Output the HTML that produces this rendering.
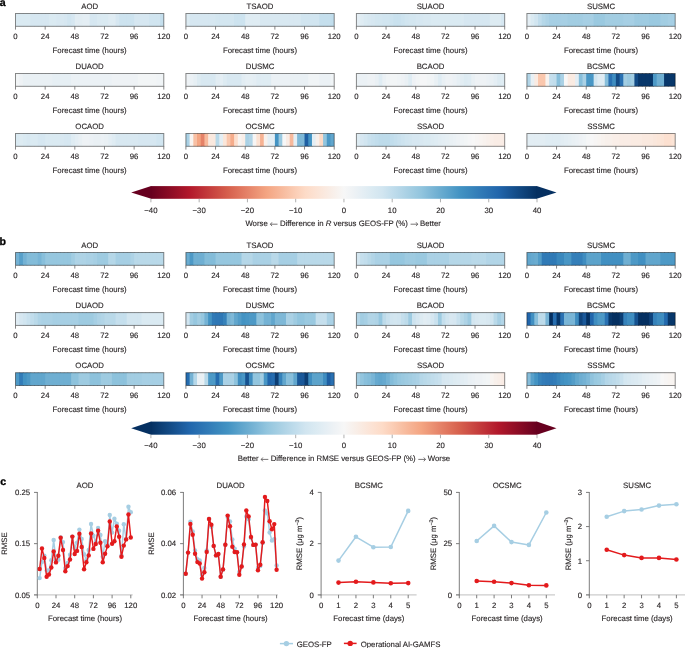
<!DOCTYPE html>
<html><head><meta charset="utf-8"><title>Figure</title>
<style>
html,body{margin:0;padding:0;background:#fff;}
body{width:685px;height:648px;overflow:hidden;}
svg{display:block;font-family:"Liberation Sans", sans-serif;will-change:transform;text-rendering:geometricPrecision;}
text{fill:#231f20;stroke:#231f20;stroke-width:0.12px;}
</style></head>
<body>
<svg width="685" height="648" viewBox="0 0 685 648" font-family='"Liberation Sans", sans-serif'>
<rect width="685" height="648" fill="#fff"/>
<text x="-0.30" y="5.80" text-anchor="start" font-size="10.6" font-weight="bold" style="fill:#000;stroke:#000;stroke-width:0.3px">a</text>
<text x="-0.50" y="245.00" text-anchor="start" font-size="10.6" font-weight="bold" style="fill:#000;stroke:#000;stroke-width:0.3px">b</text>
<text x="0.20" y="485.00" text-anchor="start" font-size="10.6" font-weight="bold" style="fill:#000;stroke:#000;stroke-width:0.3px">c</text>
<rect x="15.500" y="13.50" width="4.608" height="12.80" fill="#daeaf2"/>
<rect x="19.207" y="13.50" width="4.608" height="12.80" fill="#daeaf2"/>
<rect x="22.915" y="13.50" width="4.608" height="12.80" fill="#daeaf2"/>
<rect x="26.623" y="13.50" width="4.608" height="12.80" fill="#daeaf2"/>
<rect x="30.330" y="13.50" width="4.608" height="12.80" fill="#d6e7f1"/>
<rect x="34.038" y="13.50" width="4.608" height="12.80" fill="#d6e7f1"/>
<rect x="37.745" y="13.50" width="4.608" height="12.80" fill="#d6e7f1"/>
<rect x="41.453" y="13.50" width="4.608" height="12.80" fill="#d6e7f1"/>
<rect x="45.160" y="13.50" width="4.608" height="12.80" fill="#d6e7f1"/>
<rect x="48.868" y="13.50" width="4.608" height="12.80" fill="#daeaf2"/>
<rect x="52.575" y="13.50" width="4.608" height="12.80" fill="#daeaf2"/>
<rect x="56.283" y="13.50" width="4.608" height="12.80" fill="#d8e8f1"/>
<rect x="59.990" y="13.50" width="4.608" height="12.80" fill="#d8e8f1"/>
<rect x="63.698" y="13.50" width="4.608" height="12.80" fill="#d6e7f1"/>
<rect x="67.405" y="13.50" width="4.608" height="12.80" fill="#d1e5f0"/>
<rect x="71.113" y="13.50" width="4.608" height="12.80" fill="#d6e7f1"/>
<rect x="74.820" y="13.50" width="4.608" height="12.80" fill="#e2edf3"/>
<rect x="78.528" y="13.50" width="4.608" height="12.80" fill="#e2edf3"/>
<rect x="82.235" y="13.50" width="4.608" height="12.80" fill="#e4eef4"/>
<rect x="85.943" y="13.50" width="4.608" height="12.80" fill="#e4eef4"/>
<rect x="89.650" y="13.50" width="4.608" height="12.80" fill="#d6e7f1"/>
<rect x="93.358" y="13.50" width="4.608" height="12.80" fill="#d6e7f1"/>
<rect x="97.065" y="13.50" width="4.608" height="12.80" fill="#daeaf2"/>
<rect x="100.773" y="13.50" width="4.608" height="12.80" fill="#daeaf2"/>
<rect x="104.480" y="13.50" width="4.608" height="12.80" fill="#daeaf2"/>
<rect x="108.188" y="13.50" width="4.608" height="12.80" fill="#dfecf3"/>
<rect x="111.895" y="13.50" width="4.608" height="12.80" fill="#dfecf3"/>
<rect x="115.603" y="13.50" width="4.608" height="12.80" fill="#d6e7f1"/>
<rect x="119.310" y="13.50" width="4.608" height="12.80" fill="#cde3ef"/>
<rect x="123.018" y="13.50" width="4.608" height="12.80" fill="#cde3ef"/>
<rect x="126.725" y="13.50" width="4.608" height="12.80" fill="#cde3ef"/>
<rect x="130.433" y="13.50" width="4.608" height="12.80" fill="#cde3ef"/>
<rect x="134.140" y="13.50" width="4.608" height="12.80" fill="#d6e7f1"/>
<rect x="137.848" y="13.50" width="4.608" height="12.80" fill="#d6e7f1"/>
<rect x="141.555" y="13.50" width="4.608" height="12.80" fill="#d6e7f1"/>
<rect x="145.263" y="13.50" width="4.608" height="12.80" fill="#d6e7f1"/>
<rect x="148.970" y="13.50" width="4.608" height="12.80" fill="#d1e5f0"/>
<rect x="152.678" y="13.50" width="4.608" height="12.80" fill="#d1e5f0"/>
<rect x="156.385" y="13.50" width="4.608" height="12.80" fill="#d1e5f0"/>
<rect x="160.093" y="13.50" width="3.708" height="12.80" fill="#c5dfed"/>
<rect x="15.50" y="13.50" width="148.30" height="12.80" fill="none" stroke="#000" stroke-opacity="0.48" stroke-width="0.95"/>
<line x1="15.50" y1="26.30" x2="15.50" y2="29.60" stroke="#5e5e5e" stroke-width="0.75"/>
<text x="15.50" y="39.20" text-anchor="middle" font-size="7.8" font-weight="normal" >0</text>
<line x1="45.16" y1="26.30" x2="45.16" y2="29.60" stroke="#5e5e5e" stroke-width="0.75"/>
<text x="45.16" y="39.20" text-anchor="middle" font-size="7.8" font-weight="normal" >24</text>
<line x1="74.82" y1="26.30" x2="74.82" y2="29.60" stroke="#5e5e5e" stroke-width="0.75"/>
<text x="74.82" y="39.20" text-anchor="middle" font-size="7.8" font-weight="normal" >48</text>
<line x1="104.48" y1="26.30" x2="104.48" y2="29.60" stroke="#5e5e5e" stroke-width="0.75"/>
<text x="104.48" y="39.20" text-anchor="middle" font-size="7.8" font-weight="normal" >72</text>
<line x1="134.14" y1="26.30" x2="134.14" y2="29.60" stroke="#5e5e5e" stroke-width="0.75"/>
<text x="134.14" y="39.20" text-anchor="middle" font-size="7.8" font-weight="normal" >96</text>
<line x1="163.80" y1="26.30" x2="163.80" y2="29.60" stroke="#5e5e5e" stroke-width="0.75"/>
<text x="163.80" y="39.20" text-anchor="middle" font-size="7.8" font-weight="normal" >120</text>
<text x="89.65" y="9.10" text-anchor="middle" font-size="7.8" font-weight="normal" >AOD</text>
<text x="89.65" y="52.80" text-anchor="middle" font-size="7.8" font-weight="normal" >Forecast time (hours)</text>
<rect x="15.500" y="252.50" width="4.608" height="12.80" fill="#74b2d4"/>
<rect x="19.207" y="252.50" width="4.608" height="12.80" fill="#57a0ca"/>
<rect x="22.915" y="252.50" width="4.608" height="12.80" fill="#74b2d4"/>
<rect x="26.623" y="252.50" width="4.608" height="12.80" fill="#83bcd9"/>
<rect x="30.330" y="252.50" width="4.608" height="12.80" fill="#83bcd9"/>
<rect x="34.038" y="252.50" width="4.608" height="12.80" fill="#83bcd9"/>
<rect x="37.745" y="252.50" width="4.608" height="12.80" fill="#79b5d6"/>
<rect x="41.453" y="252.50" width="4.608" height="12.80" fill="#88bfdb"/>
<rect x="45.160" y="252.50" width="4.608" height="12.80" fill="#96c7df"/>
<rect x="48.868" y="252.50" width="4.608" height="12.80" fill="#96c7df"/>
<rect x="52.575" y="252.50" width="4.608" height="12.80" fill="#96c7df"/>
<rect x="56.283" y="252.50" width="4.608" height="12.80" fill="#96c7df"/>
<rect x="59.990" y="252.50" width="4.608" height="12.80" fill="#96c7df"/>
<rect x="63.698" y="252.50" width="4.608" height="12.80" fill="#96c7df"/>
<rect x="67.405" y="252.50" width="4.608" height="12.80" fill="#96c7df"/>
<rect x="71.113" y="252.50" width="4.608" height="12.80" fill="#a2cde2"/>
<rect x="74.820" y="252.50" width="4.608" height="12.80" fill="#aed3e6"/>
<rect x="78.528" y="252.50" width="4.608" height="12.80" fill="#aed3e6"/>
<rect x="82.235" y="252.50" width="4.608" height="12.80" fill="#aed3e6"/>
<rect x="85.943" y="252.50" width="4.608" height="12.80" fill="#aad1e5"/>
<rect x="89.650" y="252.50" width="4.608" height="12.80" fill="#aad1e5"/>
<rect x="93.358" y="252.50" width="4.608" height="12.80" fill="#a6cfe4"/>
<rect x="97.065" y="252.50" width="4.608" height="12.80" fill="#9ecbe1"/>
<rect x="100.773" y="252.50" width="4.608" height="12.80" fill="#9ecbe1"/>
<rect x="104.480" y="252.50" width="4.608" height="12.80" fill="#9ecbe1"/>
<rect x="108.188" y="252.50" width="4.608" height="12.80" fill="#b5d7e8"/>
<rect x="111.895" y="252.50" width="4.608" height="12.80" fill="#b5d7e8"/>
<rect x="115.603" y="252.50" width="4.608" height="12.80" fill="#a6cfe4"/>
<rect x="119.310" y="252.50" width="4.608" height="12.80" fill="#a6cfe4"/>
<rect x="123.018" y="252.50" width="4.608" height="12.80" fill="#a6cfe4"/>
<rect x="126.725" y="252.50" width="4.608" height="12.80" fill="#a6cfe4"/>
<rect x="130.433" y="252.50" width="4.608" height="12.80" fill="#aed3e6"/>
<rect x="134.140" y="252.50" width="4.608" height="12.80" fill="#b9d9e9"/>
<rect x="137.848" y="252.50" width="4.608" height="12.80" fill="#b9d9e9"/>
<rect x="141.555" y="252.50" width="4.608" height="12.80" fill="#b9d9e9"/>
<rect x="145.263" y="252.50" width="4.608" height="12.80" fill="#b9d9e9"/>
<rect x="148.970" y="252.50" width="4.608" height="12.80" fill="#b9d9e9"/>
<rect x="152.678" y="252.50" width="4.608" height="12.80" fill="#b9d9e9"/>
<rect x="156.385" y="252.50" width="4.608" height="12.80" fill="#b9d9e9"/>
<rect x="160.093" y="252.50" width="3.708" height="12.80" fill="#b9d9e9"/>
<rect x="15.50" y="252.50" width="148.30" height="12.80" fill="none" stroke="#000" stroke-opacity="0.48" stroke-width="0.95"/>
<line x1="15.50" y1="265.30" x2="15.50" y2="268.60" stroke="#5e5e5e" stroke-width="0.75"/>
<text x="15.50" y="278.20" text-anchor="middle" font-size="7.8" font-weight="normal" >0</text>
<line x1="45.16" y1="265.30" x2="45.16" y2="268.60" stroke="#5e5e5e" stroke-width="0.75"/>
<text x="45.16" y="278.20" text-anchor="middle" font-size="7.8" font-weight="normal" >24</text>
<line x1="74.82" y1="265.30" x2="74.82" y2="268.60" stroke="#5e5e5e" stroke-width="0.75"/>
<text x="74.82" y="278.20" text-anchor="middle" font-size="7.8" font-weight="normal" >48</text>
<line x1="104.48" y1="265.30" x2="104.48" y2="268.60" stroke="#5e5e5e" stroke-width="0.75"/>
<text x="104.48" y="278.20" text-anchor="middle" font-size="7.8" font-weight="normal" >72</text>
<line x1="134.14" y1="265.30" x2="134.14" y2="268.60" stroke="#5e5e5e" stroke-width="0.75"/>
<text x="134.14" y="278.20" text-anchor="middle" font-size="7.8" font-weight="normal" >96</text>
<line x1="163.80" y1="265.30" x2="163.80" y2="268.60" stroke="#5e5e5e" stroke-width="0.75"/>
<text x="163.80" y="278.20" text-anchor="middle" font-size="7.8" font-weight="normal" >120</text>
<text x="89.65" y="248.10" text-anchor="middle" font-size="7.8" font-weight="normal" >AOD</text>
<text x="89.65" y="291.80" text-anchor="middle" font-size="7.8" font-weight="normal" >Forecast time (hours)</text>
<rect x="185.900" y="13.50" width="4.608" height="12.80" fill="#ddebf2"/>
<rect x="189.608" y="13.50" width="4.608" height="12.80" fill="#d6e7f1"/>
<rect x="193.315" y="13.50" width="4.608" height="12.80" fill="#d6e7f1"/>
<rect x="197.023" y="13.50" width="4.608" height="12.80" fill="#d6e7f1"/>
<rect x="200.730" y="13.50" width="4.608" height="12.80" fill="#d6e7f1"/>
<rect x="204.438" y="13.50" width="4.608" height="12.80" fill="#d6e7f1"/>
<rect x="208.145" y="13.50" width="4.608" height="12.80" fill="#d6e7f1"/>
<rect x="211.853" y="13.50" width="4.608" height="12.80" fill="#d6e7f1"/>
<rect x="215.560" y="13.50" width="4.608" height="12.80" fill="#d3e6f0"/>
<rect x="219.268" y="13.50" width="4.608" height="12.80" fill="#d3e6f0"/>
<rect x="222.975" y="13.50" width="4.608" height="12.80" fill="#d3e6f0"/>
<rect x="226.683" y="13.50" width="4.608" height="12.80" fill="#d3e6f0"/>
<rect x="230.390" y="13.50" width="4.608" height="12.80" fill="#d3e6f0"/>
<rect x="234.098" y="13.50" width="4.608" height="12.80" fill="#cde3ef"/>
<rect x="237.805" y="13.50" width="4.608" height="12.80" fill="#cde3ef"/>
<rect x="241.513" y="13.50" width="4.608" height="12.80" fill="#cde3ef"/>
<rect x="245.220" y="13.50" width="4.608" height="12.80" fill="#dfecf3"/>
<rect x="248.928" y="13.50" width="4.608" height="12.80" fill="#dfecf3"/>
<rect x="252.635" y="13.50" width="4.608" height="12.80" fill="#dfecf3"/>
<rect x="256.343" y="13.50" width="4.608" height="12.80" fill="#dfecf3"/>
<rect x="260.050" y="13.50" width="4.608" height="12.80" fill="#d8e8f1"/>
<rect x="263.758" y="13.50" width="4.608" height="12.80" fill="#d8e8f1"/>
<rect x="267.465" y="13.50" width="4.608" height="12.80" fill="#d8e8f1"/>
<rect x="271.173" y="13.50" width="4.608" height="12.80" fill="#d8e8f1"/>
<rect x="274.880" y="13.50" width="4.608" height="12.80" fill="#d8e8f1"/>
<rect x="278.588" y="13.50" width="4.608" height="12.80" fill="#d8e8f1"/>
<rect x="282.295" y="13.50" width="4.608" height="12.80" fill="#d8e8f1"/>
<rect x="286.002" y="13.50" width="4.608" height="12.80" fill="#d8e8f1"/>
<rect x="289.710" y="13.50" width="4.608" height="12.80" fill="#d8e8f1"/>
<rect x="293.418" y="13.50" width="4.608" height="12.80" fill="#d8e8f1"/>
<rect x="297.125" y="13.50" width="4.608" height="12.80" fill="#d8e8f1"/>
<rect x="300.833" y="13.50" width="4.608" height="12.80" fill="#d1e5f0"/>
<rect x="304.540" y="13.50" width="4.608" height="12.80" fill="#d1e5f0"/>
<rect x="308.248" y="13.50" width="4.608" height="12.80" fill="#d1e5f0"/>
<rect x="311.955" y="13.50" width="4.608" height="12.80" fill="#d1e5f0"/>
<rect x="315.663" y="13.50" width="4.608" height="12.80" fill="#d1e5f0"/>
<rect x="319.370" y="13.50" width="4.608" height="12.80" fill="#c5dfed"/>
<rect x="323.077" y="13.50" width="4.608" height="12.80" fill="#c5dfed"/>
<rect x="326.785" y="13.50" width="4.608" height="12.80" fill="#c5dfed"/>
<rect x="330.493" y="13.50" width="3.708" height="12.80" fill="#c1ddec"/>
<rect x="185.90" y="13.50" width="148.30" height="12.80" fill="none" stroke="#000" stroke-opacity="0.48" stroke-width="0.95"/>
<line x1="185.90" y1="26.30" x2="185.90" y2="29.60" stroke="#5e5e5e" stroke-width="0.75"/>
<text x="185.90" y="39.20" text-anchor="middle" font-size="7.8" font-weight="normal" >0</text>
<line x1="215.56" y1="26.30" x2="215.56" y2="29.60" stroke="#5e5e5e" stroke-width="0.75"/>
<text x="215.56" y="39.20" text-anchor="middle" font-size="7.8" font-weight="normal" >24</text>
<line x1="245.22" y1="26.30" x2="245.22" y2="29.60" stroke="#5e5e5e" stroke-width="0.75"/>
<text x="245.22" y="39.20" text-anchor="middle" font-size="7.8" font-weight="normal" >48</text>
<line x1="274.88" y1="26.30" x2="274.88" y2="29.60" stroke="#5e5e5e" stroke-width="0.75"/>
<text x="274.88" y="39.20" text-anchor="middle" font-size="7.8" font-weight="normal" >72</text>
<line x1="304.54" y1="26.30" x2="304.54" y2="29.60" stroke="#5e5e5e" stroke-width="0.75"/>
<text x="304.54" y="39.20" text-anchor="middle" font-size="7.8" font-weight="normal" >96</text>
<line x1="334.20" y1="26.30" x2="334.20" y2="29.60" stroke="#5e5e5e" stroke-width="0.75"/>
<text x="334.20" y="39.20" text-anchor="middle" font-size="7.8" font-weight="normal" >120</text>
<text x="260.05" y="9.10" text-anchor="middle" font-size="7.8" font-weight="normal" >TSAOD</text>
<text x="260.05" y="52.80" text-anchor="middle" font-size="7.8" font-weight="normal" >Forecast time (hours)</text>
<rect x="185.900" y="252.50" width="4.608" height="12.80" fill="#6aacd0"/>
<rect x="189.608" y="252.50" width="4.608" height="12.80" fill="#4d99c6"/>
<rect x="193.315" y="252.50" width="4.608" height="12.80" fill="#6fafd2"/>
<rect x="197.023" y="252.50" width="4.608" height="12.80" fill="#6fafd2"/>
<rect x="200.730" y="252.50" width="4.608" height="12.80" fill="#6fafd2"/>
<rect x="204.438" y="252.50" width="4.608" height="12.80" fill="#83bcd9"/>
<rect x="208.145" y="252.50" width="4.608" height="12.80" fill="#83bcd9"/>
<rect x="211.853" y="252.50" width="4.608" height="12.80" fill="#83bcd9"/>
<rect x="215.560" y="252.50" width="4.608" height="12.80" fill="#96c7df"/>
<rect x="219.268" y="252.50" width="4.608" height="12.80" fill="#96c7df"/>
<rect x="222.975" y="252.50" width="4.608" height="12.80" fill="#96c7df"/>
<rect x="226.683" y="252.50" width="4.608" height="12.80" fill="#96c7df"/>
<rect x="230.390" y="252.50" width="4.608" height="12.80" fill="#96c7df"/>
<rect x="234.098" y="252.50" width="4.608" height="12.80" fill="#96c7df"/>
<rect x="237.805" y="252.50" width="4.608" height="12.80" fill="#96c7df"/>
<rect x="241.513" y="252.50" width="4.608" height="12.80" fill="#b5d7e8"/>
<rect x="245.220" y="252.50" width="4.608" height="12.80" fill="#b5d7e8"/>
<rect x="248.928" y="252.50" width="4.608" height="12.80" fill="#b5d7e8"/>
<rect x="252.635" y="252.50" width="4.608" height="12.80" fill="#aad1e5"/>
<rect x="256.343" y="252.50" width="4.608" height="12.80" fill="#aad1e5"/>
<rect x="260.050" y="252.50" width="4.608" height="12.80" fill="#aad1e5"/>
<rect x="263.758" y="252.50" width="4.608" height="12.80" fill="#aad1e5"/>
<rect x="267.465" y="252.50" width="4.608" height="12.80" fill="#aad1e5"/>
<rect x="271.173" y="252.50" width="4.608" height="12.80" fill="#b9d9e9"/>
<rect x="274.880" y="252.50" width="4.608" height="12.80" fill="#b9d9e9"/>
<rect x="278.588" y="252.50" width="4.608" height="12.80" fill="#a6cfe4"/>
<rect x="282.295" y="252.50" width="4.608" height="12.80" fill="#a6cfe4"/>
<rect x="286.002" y="252.50" width="4.608" height="12.80" fill="#a6cfe4"/>
<rect x="289.710" y="252.50" width="4.608" height="12.80" fill="#a6cfe4"/>
<rect x="293.418" y="252.50" width="4.608" height="12.80" fill="#a6cfe4"/>
<rect x="297.125" y="252.50" width="4.608" height="12.80" fill="#b9d9e9"/>
<rect x="300.833" y="252.50" width="4.608" height="12.80" fill="#b9d9e9"/>
<rect x="304.540" y="252.50" width="4.608" height="12.80" fill="#b9d9e9"/>
<rect x="308.248" y="252.50" width="4.608" height="12.80" fill="#b9d9e9"/>
<rect x="311.955" y="252.50" width="4.608" height="12.80" fill="#b9d9e9"/>
<rect x="315.663" y="252.50" width="4.608" height="12.80" fill="#b9d9e9"/>
<rect x="319.370" y="252.50" width="4.608" height="12.80" fill="#b9d9e9"/>
<rect x="323.077" y="252.50" width="4.608" height="12.80" fill="#b9d9e9"/>
<rect x="326.785" y="252.50" width="4.608" height="12.80" fill="#b9d9e9"/>
<rect x="330.493" y="252.50" width="3.708" height="12.80" fill="#b9d9e9"/>
<rect x="185.90" y="252.50" width="148.30" height="12.80" fill="none" stroke="#000" stroke-opacity="0.48" stroke-width="0.95"/>
<line x1="185.90" y1="265.30" x2="185.90" y2="268.60" stroke="#5e5e5e" stroke-width="0.75"/>
<text x="185.90" y="278.20" text-anchor="middle" font-size="7.8" font-weight="normal" >0</text>
<line x1="215.56" y1="265.30" x2="215.56" y2="268.60" stroke="#5e5e5e" stroke-width="0.75"/>
<text x="215.56" y="278.20" text-anchor="middle" font-size="7.8" font-weight="normal" >24</text>
<line x1="245.22" y1="265.30" x2="245.22" y2="268.60" stroke="#5e5e5e" stroke-width="0.75"/>
<text x="245.22" y="278.20" text-anchor="middle" font-size="7.8" font-weight="normal" >48</text>
<line x1="274.88" y1="265.30" x2="274.88" y2="268.60" stroke="#5e5e5e" stroke-width="0.75"/>
<text x="274.88" y="278.20" text-anchor="middle" font-size="7.8" font-weight="normal" >72</text>
<line x1="304.54" y1="265.30" x2="304.54" y2="268.60" stroke="#5e5e5e" stroke-width="0.75"/>
<text x="304.54" y="278.20" text-anchor="middle" font-size="7.8" font-weight="normal" >96</text>
<line x1="334.20" y1="265.30" x2="334.20" y2="268.60" stroke="#5e5e5e" stroke-width="0.75"/>
<text x="334.20" y="278.20" text-anchor="middle" font-size="7.8" font-weight="normal" >120</text>
<text x="260.05" y="248.10" text-anchor="middle" font-size="7.8" font-weight="normal" >TSAOD</text>
<text x="260.05" y="291.80" text-anchor="middle" font-size="7.8" font-weight="normal" >Forecast time (hours)</text>
<rect x="356.400" y="13.50" width="4.608" height="12.80" fill="#e4eef4"/>
<rect x="360.107" y="13.50" width="4.608" height="12.80" fill="#dfecf3"/>
<rect x="363.815" y="13.50" width="4.608" height="12.80" fill="#daeaf2"/>
<rect x="367.522" y="13.50" width="4.608" height="12.80" fill="#d8e8f1"/>
<rect x="371.230" y="13.50" width="4.608" height="12.80" fill="#d6e7f1"/>
<rect x="374.938" y="13.50" width="4.608" height="12.80" fill="#d3e6f0"/>
<rect x="378.645" y="13.50" width="4.608" height="12.80" fill="#d3e6f0"/>
<rect x="382.352" y="13.50" width="4.608" height="12.80" fill="#d1e5f0"/>
<rect x="386.060" y="13.50" width="4.608" height="12.80" fill="#d1e5f0"/>
<rect x="389.767" y="13.50" width="4.608" height="12.80" fill="#cde3ef"/>
<rect x="393.475" y="13.50" width="4.608" height="12.80" fill="#c9e1ee"/>
<rect x="397.183" y="13.50" width="4.608" height="12.80" fill="#c9e1ee"/>
<rect x="400.890" y="13.50" width="4.608" height="12.80" fill="#cde3ef"/>
<rect x="404.597" y="13.50" width="4.608" height="12.80" fill="#d1e5f0"/>
<rect x="408.305" y="13.50" width="4.608" height="12.80" fill="#d3e6f0"/>
<rect x="412.012" y="13.50" width="4.608" height="12.80" fill="#d3e6f0"/>
<rect x="415.720" y="13.50" width="4.608" height="12.80" fill="#d6e7f1"/>
<rect x="419.428" y="13.50" width="4.608" height="12.80" fill="#d6e7f1"/>
<rect x="423.135" y="13.50" width="4.608" height="12.80" fill="#d8e8f1"/>
<rect x="426.842" y="13.50" width="4.608" height="12.80" fill="#d8e8f1"/>
<rect x="430.550" y="13.50" width="4.608" height="12.80" fill="#daeaf2"/>
<rect x="434.257" y="13.50" width="4.608" height="12.80" fill="#daeaf2"/>
<rect x="437.965" y="13.50" width="4.608" height="12.80" fill="#daeaf2"/>
<rect x="441.673" y="13.50" width="4.608" height="12.80" fill="#daeaf2"/>
<rect x="445.380" y="13.50" width="4.608" height="12.80" fill="#daeaf2"/>
<rect x="449.087" y="13.50" width="4.608" height="12.80" fill="#daeaf2"/>
<rect x="452.795" y="13.50" width="4.608" height="12.80" fill="#daeaf2"/>
<rect x="456.502" y="13.50" width="4.608" height="12.80" fill="#daeaf2"/>
<rect x="460.210" y="13.50" width="4.608" height="12.80" fill="#daeaf2"/>
<rect x="463.918" y="13.50" width="4.608" height="12.80" fill="#d6e7f1"/>
<rect x="467.625" y="13.50" width="4.608" height="12.80" fill="#d6e7f1"/>
<rect x="471.332" y="13.50" width="4.608" height="12.80" fill="#d6e7f1"/>
<rect x="475.040" y="13.50" width="4.608" height="12.80" fill="#d6e7f1"/>
<rect x="478.748" y="13.50" width="4.608" height="12.80" fill="#d6e7f1"/>
<rect x="482.455" y="13.50" width="4.608" height="12.80" fill="#d6e7f1"/>
<rect x="486.163" y="13.50" width="4.608" height="12.80" fill="#d6e7f1"/>
<rect x="489.870" y="13.50" width="4.608" height="12.80" fill="#ddebf2"/>
<rect x="493.577" y="13.50" width="4.608" height="12.80" fill="#ddebf2"/>
<rect x="497.285" y="13.50" width="4.608" height="12.80" fill="#ddebf2"/>
<rect x="500.993" y="13.50" width="3.708" height="12.80" fill="#d6e7f1"/>
<rect x="356.40" y="13.50" width="148.30" height="12.80" fill="none" stroke="#000" stroke-opacity="0.48" stroke-width="0.95"/>
<line x1="356.40" y1="26.30" x2="356.40" y2="29.60" stroke="#5e5e5e" stroke-width="0.75"/>
<text x="356.40" y="39.20" text-anchor="middle" font-size="7.8" font-weight="normal" >0</text>
<line x1="386.06" y1="26.30" x2="386.06" y2="29.60" stroke="#5e5e5e" stroke-width="0.75"/>
<text x="386.06" y="39.20" text-anchor="middle" font-size="7.8" font-weight="normal" >24</text>
<line x1="415.72" y1="26.30" x2="415.72" y2="29.60" stroke="#5e5e5e" stroke-width="0.75"/>
<text x="415.72" y="39.20" text-anchor="middle" font-size="7.8" font-weight="normal" >48</text>
<line x1="445.38" y1="26.30" x2="445.38" y2="29.60" stroke="#5e5e5e" stroke-width="0.75"/>
<text x="445.38" y="39.20" text-anchor="middle" font-size="7.8" font-weight="normal" >72</text>
<line x1="475.04" y1="26.30" x2="475.04" y2="29.60" stroke="#5e5e5e" stroke-width="0.75"/>
<text x="475.04" y="39.20" text-anchor="middle" font-size="7.8" font-weight="normal" >96</text>
<line x1="504.70" y1="26.30" x2="504.70" y2="29.60" stroke="#5e5e5e" stroke-width="0.75"/>
<text x="504.70" y="39.20" text-anchor="middle" font-size="7.8" font-weight="normal" >120</text>
<text x="430.55" y="9.10" text-anchor="middle" font-size="7.8" font-weight="normal" >SUAOD</text>
<text x="430.55" y="52.80" text-anchor="middle" font-size="7.8" font-weight="normal" >Forecast time (hours)</text>
<rect x="356.400" y="252.50" width="4.608" height="12.80" fill="#d3e6f0"/>
<rect x="360.107" y="252.50" width="4.608" height="12.80" fill="#c5dfed"/>
<rect x="363.815" y="252.50" width="4.608" height="12.80" fill="#c1ddec"/>
<rect x="367.522" y="252.50" width="4.608" height="12.80" fill="#b9d9e9"/>
<rect x="371.230" y="252.50" width="4.608" height="12.80" fill="#b2d5e7"/>
<rect x="374.938" y="252.50" width="4.608" height="12.80" fill="#aad1e5"/>
<rect x="378.645" y="252.50" width="4.608" height="12.80" fill="#aad1e5"/>
<rect x="382.352" y="252.50" width="4.608" height="12.80" fill="#aad1e5"/>
<rect x="386.060" y="252.50" width="4.608" height="12.80" fill="#aad1e5"/>
<rect x="389.767" y="252.50" width="4.608" height="12.80" fill="#96c7df"/>
<rect x="393.475" y="252.50" width="4.608" height="12.80" fill="#96c7df"/>
<rect x="397.183" y="252.50" width="4.608" height="12.80" fill="#96c7df"/>
<rect x="400.890" y="252.50" width="4.608" height="12.80" fill="#96c7df"/>
<rect x="404.597" y="252.50" width="4.608" height="12.80" fill="#9ecbe1"/>
<rect x="408.305" y="252.50" width="4.608" height="12.80" fill="#9ecbe1"/>
<rect x="412.012" y="252.50" width="4.608" height="12.80" fill="#9ecbe1"/>
<rect x="415.720" y="252.50" width="4.608" height="12.80" fill="#9ac9e0"/>
<rect x="419.428" y="252.50" width="4.608" height="12.80" fill="#9ac9e0"/>
<rect x="423.135" y="252.50" width="4.608" height="12.80" fill="#9ac9e0"/>
<rect x="426.842" y="252.50" width="4.608" height="12.80" fill="#aad1e5"/>
<rect x="430.550" y="252.50" width="4.608" height="12.80" fill="#aad1e5"/>
<rect x="434.257" y="252.50" width="4.608" height="12.80" fill="#aad1e5"/>
<rect x="437.965" y="252.50" width="4.608" height="12.80" fill="#aad1e5"/>
<rect x="441.673" y="252.50" width="4.608" height="12.80" fill="#aad1e5"/>
<rect x="445.380" y="252.50" width="4.608" height="12.80" fill="#aad1e5"/>
<rect x="449.087" y="252.50" width="4.608" height="12.80" fill="#b5d7e8"/>
<rect x="452.795" y="252.50" width="4.608" height="12.80" fill="#b5d7e8"/>
<rect x="456.502" y="252.50" width="4.608" height="12.80" fill="#b5d7e8"/>
<rect x="460.210" y="252.50" width="4.608" height="12.80" fill="#b5d7e8"/>
<rect x="463.918" y="252.50" width="4.608" height="12.80" fill="#b5d7e8"/>
<rect x="467.625" y="252.50" width="4.608" height="12.80" fill="#b5d7e8"/>
<rect x="471.332" y="252.50" width="4.608" height="12.80" fill="#b9d9e9"/>
<rect x="475.040" y="252.50" width="4.608" height="12.80" fill="#b9d9e9"/>
<rect x="478.748" y="252.50" width="4.608" height="12.80" fill="#b9d9e9"/>
<rect x="482.455" y="252.50" width="4.608" height="12.80" fill="#b9d9e9"/>
<rect x="486.163" y="252.50" width="4.608" height="12.80" fill="#b2d5e7"/>
<rect x="489.870" y="252.50" width="4.608" height="12.80" fill="#b2d5e7"/>
<rect x="493.577" y="252.50" width="4.608" height="12.80" fill="#b2d5e7"/>
<rect x="497.285" y="252.50" width="4.608" height="12.80" fill="#b2d5e7"/>
<rect x="500.993" y="252.50" width="3.708" height="12.80" fill="#b2d5e7"/>
<rect x="356.40" y="252.50" width="148.30" height="12.80" fill="none" stroke="#000" stroke-opacity="0.48" stroke-width="0.95"/>
<line x1="356.40" y1="265.30" x2="356.40" y2="268.60" stroke="#5e5e5e" stroke-width="0.75"/>
<text x="356.40" y="278.20" text-anchor="middle" font-size="7.8" font-weight="normal" >0</text>
<line x1="386.06" y1="265.30" x2="386.06" y2="268.60" stroke="#5e5e5e" stroke-width="0.75"/>
<text x="386.06" y="278.20" text-anchor="middle" font-size="7.8" font-weight="normal" >24</text>
<line x1="415.72" y1="265.30" x2="415.72" y2="268.60" stroke="#5e5e5e" stroke-width="0.75"/>
<text x="415.72" y="278.20" text-anchor="middle" font-size="7.8" font-weight="normal" >48</text>
<line x1="445.38" y1="265.30" x2="445.38" y2="268.60" stroke="#5e5e5e" stroke-width="0.75"/>
<text x="445.38" y="278.20" text-anchor="middle" font-size="7.8" font-weight="normal" >72</text>
<line x1="475.04" y1="265.30" x2="475.04" y2="268.60" stroke="#5e5e5e" stroke-width="0.75"/>
<text x="475.04" y="278.20" text-anchor="middle" font-size="7.8" font-weight="normal" >96</text>
<line x1="504.70" y1="265.30" x2="504.70" y2="268.60" stroke="#5e5e5e" stroke-width="0.75"/>
<text x="504.70" y="278.20" text-anchor="middle" font-size="7.8" font-weight="normal" >120</text>
<text x="430.55" y="248.10" text-anchor="middle" font-size="7.8" font-weight="normal" >SUAOD</text>
<text x="430.55" y="291.80" text-anchor="middle" font-size="7.8" font-weight="normal" >Forecast time (hours)</text>
<rect x="526.900" y="13.50" width="4.608" height="12.80" fill="#e4eef4"/>
<rect x="530.607" y="13.50" width="4.608" height="12.80" fill="#daeaf2"/>
<rect x="534.315" y="13.50" width="4.608" height="12.80" fill="#d1e5f0"/>
<rect x="538.023" y="13.50" width="4.608" height="12.80" fill="#c1ddec"/>
<rect x="541.730" y="13.50" width="4.608" height="12.80" fill="#b5d7e8"/>
<rect x="545.438" y="13.50" width="4.608" height="12.80" fill="#aed3e6"/>
<rect x="549.145" y="13.50" width="4.608" height="12.80" fill="#a6cfe4"/>
<rect x="552.852" y="13.50" width="4.608" height="12.80" fill="#a6cfe4"/>
<rect x="556.560" y="13.50" width="4.608" height="12.80" fill="#a6cfe4"/>
<rect x="560.267" y="13.50" width="4.608" height="12.80" fill="#a6cfe4"/>
<rect x="563.975" y="13.50" width="4.608" height="12.80" fill="#a6cfe4"/>
<rect x="567.683" y="13.50" width="4.608" height="12.80" fill="#a2cde2"/>
<rect x="571.390" y="13.50" width="4.608" height="12.80" fill="#a2cde2"/>
<rect x="575.097" y="13.50" width="4.608" height="12.80" fill="#a2cde2"/>
<rect x="578.805" y="13.50" width="4.608" height="12.80" fill="#a2cde2"/>
<rect x="582.512" y="13.50" width="4.608" height="12.80" fill="#a6cfe4"/>
<rect x="586.220" y="13.50" width="4.608" height="12.80" fill="#a6cfe4"/>
<rect x="589.928" y="13.50" width="4.608" height="12.80" fill="#a6cfe4"/>
<rect x="593.635" y="13.50" width="4.608" height="12.80" fill="#9ac9e0"/>
<rect x="597.342" y="13.50" width="4.608" height="12.80" fill="#9ac9e0"/>
<rect x="601.050" y="13.50" width="4.608" height="12.80" fill="#9ac9e0"/>
<rect x="604.757" y="13.50" width="4.608" height="12.80" fill="#a2cde2"/>
<rect x="608.465" y="13.50" width="4.608" height="12.80" fill="#a2cde2"/>
<rect x="612.173" y="13.50" width="4.608" height="12.80" fill="#a2cde2"/>
<rect x="615.880" y="13.50" width="4.608" height="12.80" fill="#a2cde2"/>
<rect x="619.587" y="13.50" width="4.608" height="12.80" fill="#a2cde2"/>
<rect x="623.295" y="13.50" width="4.608" height="12.80" fill="#a6cfe4"/>
<rect x="627.002" y="13.50" width="4.608" height="12.80" fill="#a6cfe4"/>
<rect x="630.710" y="13.50" width="4.608" height="12.80" fill="#a6cfe4"/>
<rect x="634.418" y="13.50" width="4.608" height="12.80" fill="#9ecbe1"/>
<rect x="638.125" y="13.50" width="4.608" height="12.80" fill="#9ecbe1"/>
<rect x="641.832" y="13.50" width="4.608" height="12.80" fill="#9ecbe1"/>
<rect x="645.540" y="13.50" width="4.608" height="12.80" fill="#9ecbe1"/>
<rect x="649.247" y="13.50" width="4.608" height="12.80" fill="#9ac9e0"/>
<rect x="652.955" y="13.50" width="4.608" height="12.80" fill="#9ac9e0"/>
<rect x="656.663" y="13.50" width="4.608" height="12.80" fill="#9ac9e0"/>
<rect x="660.370" y="13.50" width="4.608" height="12.80" fill="#a2cde2"/>
<rect x="664.077" y="13.50" width="4.608" height="12.80" fill="#a2cde2"/>
<rect x="667.785" y="13.50" width="4.608" height="12.80" fill="#a6cfe4"/>
<rect x="671.493" y="13.50" width="3.708" height="12.80" fill="#a6cfe4"/>
<rect x="526.90" y="13.50" width="148.30" height="12.80" fill="none" stroke="#000" stroke-opacity="0.48" stroke-width="0.95"/>
<line x1="526.90" y1="26.30" x2="526.90" y2="29.60" stroke="#5e5e5e" stroke-width="0.75"/>
<text x="526.90" y="39.20" text-anchor="middle" font-size="7.8" font-weight="normal" >0</text>
<line x1="556.56" y1="26.30" x2="556.56" y2="29.60" stroke="#5e5e5e" stroke-width="0.75"/>
<text x="556.56" y="39.20" text-anchor="middle" font-size="7.8" font-weight="normal" >24</text>
<line x1="586.22" y1="26.30" x2="586.22" y2="29.60" stroke="#5e5e5e" stroke-width="0.75"/>
<text x="586.22" y="39.20" text-anchor="middle" font-size="7.8" font-weight="normal" >48</text>
<line x1="615.88" y1="26.30" x2="615.88" y2="29.60" stroke="#5e5e5e" stroke-width="0.75"/>
<text x="615.88" y="39.20" text-anchor="middle" font-size="7.8" font-weight="normal" >72</text>
<line x1="645.54" y1="26.30" x2="645.54" y2="29.60" stroke="#5e5e5e" stroke-width="0.75"/>
<text x="645.54" y="39.20" text-anchor="middle" font-size="7.8" font-weight="normal" >96</text>
<line x1="675.20" y1="26.30" x2="675.20" y2="29.60" stroke="#5e5e5e" stroke-width="0.75"/>
<text x="675.20" y="39.20" text-anchor="middle" font-size="7.8" font-weight="normal" >120</text>
<text x="601.05" y="9.10" text-anchor="middle" font-size="7.8" font-weight="normal" >SUSMC</text>
<text x="601.05" y="52.80" text-anchor="middle" font-size="7.8" font-weight="normal" >Forecast time (hours)</text>
<rect x="526.900" y="252.50" width="4.608" height="12.80" fill="#61a6cd"/>
<rect x="530.607" y="252.50" width="4.608" height="12.80" fill="#66a9cf"/>
<rect x="534.315" y="252.50" width="4.608" height="12.80" fill="#6aacd0"/>
<rect x="538.023" y="252.50" width="4.608" height="12.80" fill="#529cc8"/>
<rect x="541.730" y="252.50" width="4.608" height="12.80" fill="#307ab6"/>
<rect x="545.438" y="252.50" width="4.608" height="12.80" fill="#307ab6"/>
<rect x="549.145" y="252.50" width="4.608" height="12.80" fill="#307ab6"/>
<rect x="552.852" y="252.50" width="4.608" height="12.80" fill="#307ab6"/>
<rect x="556.560" y="252.50" width="4.608" height="12.80" fill="#3a88bd"/>
<rect x="560.267" y="252.50" width="4.608" height="12.80" fill="#3a88bd"/>
<rect x="563.975" y="252.50" width="4.608" height="12.80" fill="#4896c5"/>
<rect x="567.683" y="252.50" width="4.608" height="12.80" fill="#4896c5"/>
<rect x="571.390" y="252.50" width="4.608" height="12.80" fill="#347fb9"/>
<rect x="575.097" y="252.50" width="4.608" height="12.80" fill="#347fb9"/>
<rect x="578.805" y="252.50" width="4.608" height="12.80" fill="#347fb9"/>
<rect x="582.512" y="252.50" width="4.608" height="12.80" fill="#3f8dc0"/>
<rect x="586.220" y="252.50" width="4.608" height="12.80" fill="#5ca3cb"/>
<rect x="589.928" y="252.50" width="4.608" height="12.80" fill="#5ca3cb"/>
<rect x="593.635" y="252.50" width="4.608" height="12.80" fill="#5ca3cb"/>
<rect x="597.342" y="252.50" width="4.608" height="12.80" fill="#5ca3cb"/>
<rect x="601.050" y="252.50" width="4.608" height="12.80" fill="#4190c2"/>
<rect x="604.757" y="252.50" width="4.608" height="12.80" fill="#4190c2"/>
<rect x="608.465" y="252.50" width="4.608" height="12.80" fill="#4190c2"/>
<rect x="612.173" y="252.50" width="4.608" height="12.80" fill="#4190c2"/>
<rect x="615.880" y="252.50" width="4.608" height="12.80" fill="#4190c2"/>
<rect x="619.587" y="252.50" width="4.608" height="12.80" fill="#4190c2"/>
<rect x="623.295" y="252.50" width="4.608" height="12.80" fill="#6fafd2"/>
<rect x="627.002" y="252.50" width="4.608" height="12.80" fill="#6fafd2"/>
<rect x="630.710" y="252.50" width="4.608" height="12.80" fill="#4d99c6"/>
<rect x="634.418" y="252.50" width="4.608" height="12.80" fill="#4d99c6"/>
<rect x="638.125" y="252.50" width="4.608" height="12.80" fill="#4190c2"/>
<rect x="641.832" y="252.50" width="4.608" height="12.80" fill="#4190c2"/>
<rect x="645.540" y="252.50" width="4.608" height="12.80" fill="#61a6cd"/>
<rect x="649.247" y="252.50" width="4.608" height="12.80" fill="#61a6cd"/>
<rect x="652.955" y="252.50" width="4.608" height="12.80" fill="#61a6cd"/>
<rect x="656.663" y="252.50" width="4.608" height="12.80" fill="#61a6cd"/>
<rect x="660.370" y="252.50" width="4.608" height="12.80" fill="#4d99c6"/>
<rect x="664.077" y="252.50" width="4.608" height="12.80" fill="#4d99c6"/>
<rect x="667.785" y="252.50" width="4.608" height="12.80" fill="#4d99c6"/>
<rect x="671.493" y="252.50" width="3.708" height="12.80" fill="#4d99c6"/>
<rect x="526.90" y="252.50" width="148.30" height="12.80" fill="none" stroke="#000" stroke-opacity="0.48" stroke-width="0.95"/>
<line x1="526.90" y1="265.30" x2="526.90" y2="268.60" stroke="#5e5e5e" stroke-width="0.75"/>
<text x="526.90" y="278.20" text-anchor="middle" font-size="7.8" font-weight="normal" >0</text>
<line x1="556.56" y1="265.30" x2="556.56" y2="268.60" stroke="#5e5e5e" stroke-width="0.75"/>
<text x="556.56" y="278.20" text-anchor="middle" font-size="7.8" font-weight="normal" >24</text>
<line x1="586.22" y1="265.30" x2="586.22" y2="268.60" stroke="#5e5e5e" stroke-width="0.75"/>
<text x="586.22" y="278.20" text-anchor="middle" font-size="7.8" font-weight="normal" >48</text>
<line x1="615.88" y1="265.30" x2="615.88" y2="268.60" stroke="#5e5e5e" stroke-width="0.75"/>
<text x="615.88" y="278.20" text-anchor="middle" font-size="7.8" font-weight="normal" >72</text>
<line x1="645.54" y1="265.30" x2="645.54" y2="268.60" stroke="#5e5e5e" stroke-width="0.75"/>
<text x="645.54" y="278.20" text-anchor="middle" font-size="7.8" font-weight="normal" >96</text>
<line x1="675.20" y1="265.30" x2="675.20" y2="268.60" stroke="#5e5e5e" stroke-width="0.75"/>
<text x="675.20" y="278.20" text-anchor="middle" font-size="7.8" font-weight="normal" >120</text>
<text x="601.05" y="248.10" text-anchor="middle" font-size="7.8" font-weight="normal" >SUSMC</text>
<text x="601.05" y="291.80" text-anchor="middle" font-size="7.8" font-weight="normal" >Forecast time (hours)</text>
<rect x="15.500" y="73.50" width="4.608" height="12.80" fill="#f2f5f6"/>
<rect x="19.207" y="73.50" width="4.608" height="12.80" fill="#eef2f5"/>
<rect x="22.915" y="73.50" width="4.608" height="12.80" fill="#e9f0f4"/>
<rect x="26.623" y="73.50" width="4.608" height="12.80" fill="#e9f0f4"/>
<rect x="30.330" y="73.50" width="4.608" height="12.80" fill="#e9f0f4"/>
<rect x="34.038" y="73.50" width="4.608" height="12.80" fill="#e9f0f4"/>
<rect x="37.745" y="73.50" width="4.608" height="12.80" fill="#e9f0f4"/>
<rect x="41.453" y="73.50" width="4.608" height="12.80" fill="#e9f0f4"/>
<rect x="45.160" y="73.50" width="4.608" height="12.80" fill="#e9f0f4"/>
<rect x="48.868" y="73.50" width="4.608" height="12.80" fill="#e9f0f4"/>
<rect x="52.575" y="73.50" width="4.608" height="12.80" fill="#e6eff4"/>
<rect x="56.283" y="73.50" width="4.608" height="12.80" fill="#e6eff4"/>
<rect x="59.990" y="73.50" width="4.608" height="12.80" fill="#e6eff4"/>
<rect x="63.698" y="73.50" width="4.608" height="12.80" fill="#e6eff4"/>
<rect x="67.405" y="73.50" width="4.608" height="12.80" fill="#e6eff4"/>
<rect x="71.113" y="73.50" width="4.608" height="12.80" fill="#ebf1f5"/>
<rect x="74.820" y="73.50" width="4.608" height="12.80" fill="#ebf1f5"/>
<rect x="78.528" y="73.50" width="4.608" height="12.80" fill="#ebf1f5"/>
<rect x="82.235" y="73.50" width="4.608" height="12.80" fill="#ebf1f5"/>
<rect x="85.943" y="73.50" width="4.608" height="12.80" fill="#ebf1f5"/>
<rect x="89.650" y="73.50" width="4.608" height="12.80" fill="#ebf1f5"/>
<rect x="93.358" y="73.50" width="4.608" height="12.80" fill="#ebf1f5"/>
<rect x="97.065" y="73.50" width="4.608" height="12.80" fill="#ebf1f5"/>
<rect x="100.773" y="73.50" width="4.608" height="12.80" fill="#ebf1f5"/>
<rect x="104.480" y="73.50" width="4.608" height="12.80" fill="#ebf1f5"/>
<rect x="108.188" y="73.50" width="4.608" height="12.80" fill="#ebf1f5"/>
<rect x="111.895" y="73.50" width="4.608" height="12.80" fill="#eef2f5"/>
<rect x="115.603" y="73.50" width="4.608" height="12.80" fill="#eef2f5"/>
<rect x="119.310" y="73.50" width="4.608" height="12.80" fill="#eef2f5"/>
<rect x="123.018" y="73.50" width="4.608" height="12.80" fill="#eef2f5"/>
<rect x="126.725" y="73.50" width="4.608" height="12.80" fill="#eef2f5"/>
<rect x="130.433" y="73.50" width="4.608" height="12.80" fill="#eef2f5"/>
<rect x="134.140" y="73.50" width="4.608" height="12.80" fill="#eef2f5"/>
<rect x="137.848" y="73.50" width="4.608" height="12.80" fill="#f2f5f6"/>
<rect x="141.555" y="73.50" width="4.608" height="12.80" fill="#f2f5f6"/>
<rect x="145.263" y="73.50" width="4.608" height="12.80" fill="#f2f5f6"/>
<rect x="148.970" y="73.50" width="4.608" height="12.80" fill="#f2f5f6"/>
<rect x="152.678" y="73.50" width="4.608" height="12.80" fill="#f2f5f6"/>
<rect x="156.385" y="73.50" width="4.608" height="12.80" fill="#f0f4f6"/>
<rect x="160.093" y="73.50" width="3.708" height="12.80" fill="#f0f4f6"/>
<rect x="15.50" y="73.50" width="148.30" height="12.80" fill="none" stroke="#000" stroke-opacity="0.48" stroke-width="0.95"/>
<line x1="15.50" y1="86.30" x2="15.50" y2="89.60" stroke="#5e5e5e" stroke-width="0.75"/>
<text x="15.50" y="99.20" text-anchor="middle" font-size="7.8" font-weight="normal" >0</text>
<line x1="45.16" y1="86.30" x2="45.16" y2="89.60" stroke="#5e5e5e" stroke-width="0.75"/>
<text x="45.16" y="99.20" text-anchor="middle" font-size="7.8" font-weight="normal" >24</text>
<line x1="74.82" y1="86.30" x2="74.82" y2="89.60" stroke="#5e5e5e" stroke-width="0.75"/>
<text x="74.82" y="99.20" text-anchor="middle" font-size="7.8" font-weight="normal" >48</text>
<line x1="104.48" y1="86.30" x2="104.48" y2="89.60" stroke="#5e5e5e" stroke-width="0.75"/>
<text x="104.48" y="99.20" text-anchor="middle" font-size="7.8" font-weight="normal" >72</text>
<line x1="134.14" y1="86.30" x2="134.14" y2="89.60" stroke="#5e5e5e" stroke-width="0.75"/>
<text x="134.14" y="99.20" text-anchor="middle" font-size="7.8" font-weight="normal" >96</text>
<line x1="163.80" y1="86.30" x2="163.80" y2="89.60" stroke="#5e5e5e" stroke-width="0.75"/>
<text x="163.80" y="99.20" text-anchor="middle" font-size="7.8" font-weight="normal" >120</text>
<text x="89.65" y="69.10" text-anchor="middle" font-size="7.8" font-weight="normal" >DUAOD</text>
<text x="89.65" y="112.80" text-anchor="middle" font-size="7.8" font-weight="normal" >Forecast time (hours)</text>
<rect x="15.500" y="312.60" width="4.608" height="12.80" fill="#dfecf3"/>
<rect x="19.207" y="312.60" width="4.608" height="12.80" fill="#d6e7f1"/>
<rect x="22.915" y="312.60" width="4.608" height="12.80" fill="#d1e5f0"/>
<rect x="26.623" y="312.60" width="4.608" height="12.80" fill="#c9e1ee"/>
<rect x="30.330" y="312.60" width="4.608" height="12.80" fill="#c1ddec"/>
<rect x="34.038" y="312.60" width="4.608" height="12.80" fill="#b9d9e9"/>
<rect x="37.745" y="312.60" width="4.608" height="12.80" fill="#aed3e6"/>
<rect x="41.453" y="312.60" width="4.608" height="12.80" fill="#aad1e5"/>
<rect x="45.160" y="312.60" width="4.608" height="12.80" fill="#aad1e5"/>
<rect x="48.868" y="312.60" width="4.608" height="12.80" fill="#aad1e5"/>
<rect x="52.575" y="312.60" width="4.608" height="12.80" fill="#a6cfe4"/>
<rect x="56.283" y="312.60" width="4.608" height="12.80" fill="#a6cfe4"/>
<rect x="59.990" y="312.60" width="4.608" height="12.80" fill="#a6cfe4"/>
<rect x="63.698" y="312.60" width="4.608" height="12.80" fill="#a6cfe4"/>
<rect x="67.405" y="312.60" width="4.608" height="12.80" fill="#a6cfe4"/>
<rect x="71.113" y="312.60" width="4.608" height="12.80" fill="#a6cfe4"/>
<rect x="74.820" y="312.60" width="4.608" height="12.80" fill="#a6cfe4"/>
<rect x="78.528" y="312.60" width="4.608" height="12.80" fill="#9ecbe1"/>
<rect x="82.235" y="312.60" width="4.608" height="12.80" fill="#9ecbe1"/>
<rect x="85.943" y="312.60" width="4.608" height="12.80" fill="#9ecbe1"/>
<rect x="89.650" y="312.60" width="4.608" height="12.80" fill="#9ecbe1"/>
<rect x="93.358" y="312.60" width="4.608" height="12.80" fill="#a6cfe4"/>
<rect x="97.065" y="312.60" width="4.608" height="12.80" fill="#aed3e6"/>
<rect x="100.773" y="312.60" width="4.608" height="12.80" fill="#b2d5e7"/>
<rect x="104.480" y="312.60" width="4.608" height="12.80" fill="#b9d9e9"/>
<rect x="108.188" y="312.60" width="4.608" height="12.80" fill="#b9d9e9"/>
<rect x="111.895" y="312.60" width="4.608" height="12.80" fill="#b9d9e9"/>
<rect x="115.603" y="312.60" width="4.608" height="12.80" fill="#c5dfed"/>
<rect x="119.310" y="312.60" width="4.608" height="12.80" fill="#c5dfed"/>
<rect x="123.018" y="312.60" width="4.608" height="12.80" fill="#c5dfed"/>
<rect x="126.725" y="312.60" width="4.608" height="12.80" fill="#d3e6f0"/>
<rect x="130.433" y="312.60" width="4.608" height="12.80" fill="#d3e6f0"/>
<rect x="134.140" y="312.60" width="4.608" height="12.80" fill="#d3e6f0"/>
<rect x="137.848" y="312.60" width="4.608" height="12.80" fill="#d3e6f0"/>
<rect x="141.555" y="312.60" width="4.608" height="12.80" fill="#daeaf2"/>
<rect x="145.263" y="312.60" width="4.608" height="12.80" fill="#daeaf2"/>
<rect x="148.970" y="312.60" width="4.608" height="12.80" fill="#daeaf2"/>
<rect x="152.678" y="312.60" width="4.608" height="12.80" fill="#daeaf2"/>
<rect x="156.385" y="312.60" width="4.608" height="12.80" fill="#daeaf2"/>
<rect x="160.093" y="312.60" width="3.708" height="12.80" fill="#daeaf2"/>
<rect x="15.50" y="312.60" width="148.30" height="12.80" fill="none" stroke="#000" stroke-opacity="0.48" stroke-width="0.95"/>
<line x1="15.50" y1="325.40" x2="15.50" y2="328.70" stroke="#5e5e5e" stroke-width="0.75"/>
<text x="15.50" y="338.30" text-anchor="middle" font-size="7.8" font-weight="normal" >0</text>
<line x1="45.16" y1="325.40" x2="45.16" y2="328.70" stroke="#5e5e5e" stroke-width="0.75"/>
<text x="45.16" y="338.30" text-anchor="middle" font-size="7.8" font-weight="normal" >24</text>
<line x1="74.82" y1="325.40" x2="74.82" y2="328.70" stroke="#5e5e5e" stroke-width="0.75"/>
<text x="74.82" y="338.30" text-anchor="middle" font-size="7.8" font-weight="normal" >48</text>
<line x1="104.48" y1="325.40" x2="104.48" y2="328.70" stroke="#5e5e5e" stroke-width="0.75"/>
<text x="104.48" y="338.30" text-anchor="middle" font-size="7.8" font-weight="normal" >72</text>
<line x1="134.14" y1="325.40" x2="134.14" y2="328.70" stroke="#5e5e5e" stroke-width="0.75"/>
<text x="134.14" y="338.30" text-anchor="middle" font-size="7.8" font-weight="normal" >96</text>
<line x1="163.80" y1="325.40" x2="163.80" y2="328.70" stroke="#5e5e5e" stroke-width="0.75"/>
<text x="163.80" y="338.30" text-anchor="middle" font-size="7.8" font-weight="normal" >120</text>
<text x="89.65" y="308.20" text-anchor="middle" font-size="7.8" font-weight="normal" >DUAOD</text>
<text x="89.65" y="351.90" text-anchor="middle" font-size="7.8" font-weight="normal" >Forecast time (hours)</text>
<rect x="185.900" y="73.50" width="4.608" height="12.80" fill="#eef2f5"/>
<rect x="189.608" y="73.50" width="4.608" height="12.80" fill="#ebf1f5"/>
<rect x="193.315" y="73.50" width="4.608" height="12.80" fill="#e6eff4"/>
<rect x="197.023" y="73.50" width="4.608" height="12.80" fill="#ddebf2"/>
<rect x="200.730" y="73.50" width="4.608" height="12.80" fill="#d8e8f1"/>
<rect x="204.438" y="73.50" width="4.608" height="12.80" fill="#d8e8f1"/>
<rect x="208.145" y="73.50" width="4.608" height="12.80" fill="#d8e8f1"/>
<rect x="211.853" y="73.50" width="4.608" height="12.80" fill="#d8e8f1"/>
<rect x="215.560" y="73.50" width="4.608" height="12.80" fill="#e2edf3"/>
<rect x="219.268" y="73.50" width="4.608" height="12.80" fill="#e4eef4"/>
<rect x="222.975" y="73.50" width="4.608" height="12.80" fill="#ddebf2"/>
<rect x="226.683" y="73.50" width="4.608" height="12.80" fill="#d8e8f1"/>
<rect x="230.390" y="73.50" width="4.608" height="12.80" fill="#d8e8f1"/>
<rect x="234.098" y="73.50" width="4.608" height="12.80" fill="#d8e8f1"/>
<rect x="237.805" y="73.50" width="4.608" height="12.80" fill="#d8e8f1"/>
<rect x="241.513" y="73.50" width="4.608" height="12.80" fill="#e2edf3"/>
<rect x="245.220" y="73.50" width="4.608" height="12.80" fill="#e6eff4"/>
<rect x="248.928" y="73.50" width="4.608" height="12.80" fill="#e6eff4"/>
<rect x="252.635" y="73.50" width="4.608" height="12.80" fill="#e4eef4"/>
<rect x="256.343" y="73.50" width="4.608" height="12.80" fill="#dfecf3"/>
<rect x="260.050" y="73.50" width="4.608" height="12.80" fill="#dfecf3"/>
<rect x="263.758" y="73.50" width="4.608" height="12.80" fill="#dfecf3"/>
<rect x="267.465" y="73.50" width="4.608" height="12.80" fill="#dfecf3"/>
<rect x="271.173" y="73.50" width="4.608" height="12.80" fill="#ebf1f5"/>
<rect x="274.880" y="73.50" width="4.608" height="12.80" fill="#ebf1f5"/>
<rect x="278.588" y="73.50" width="4.608" height="12.80" fill="#ebf1f5"/>
<rect x="282.295" y="73.50" width="4.608" height="12.80" fill="#ebf1f5"/>
<rect x="286.002" y="73.50" width="4.608" height="12.80" fill="#ebf1f5"/>
<rect x="289.710" y="73.50" width="4.608" height="12.80" fill="#e9f0f4"/>
<rect x="293.418" y="73.50" width="4.608" height="12.80" fill="#e9f0f4"/>
<rect x="297.125" y="73.50" width="4.608" height="12.80" fill="#e9f0f4"/>
<rect x="300.833" y="73.50" width="4.608" height="12.80" fill="#e9f0f4"/>
<rect x="304.540" y="73.50" width="4.608" height="12.80" fill="#e9f0f4"/>
<rect x="308.248" y="73.50" width="4.608" height="12.80" fill="#f0f4f6"/>
<rect x="311.955" y="73.50" width="4.608" height="12.80" fill="#f0f4f6"/>
<rect x="315.663" y="73.50" width="4.608" height="12.80" fill="#f0f4f6"/>
<rect x="319.370" y="73.50" width="4.608" height="12.80" fill="#ebf1f5"/>
<rect x="323.077" y="73.50" width="4.608" height="12.80" fill="#ebf1f5"/>
<rect x="326.785" y="73.50" width="4.608" height="12.80" fill="#ebf1f5"/>
<rect x="330.493" y="73.50" width="3.708" height="12.80" fill="#f0f4f6"/>
<rect x="185.90" y="73.50" width="148.30" height="12.80" fill="none" stroke="#000" stroke-opacity="0.48" stroke-width="0.95"/>
<line x1="185.90" y1="86.30" x2="185.90" y2="89.60" stroke="#5e5e5e" stroke-width="0.75"/>
<text x="185.90" y="99.20" text-anchor="middle" font-size="7.8" font-weight="normal" >0</text>
<line x1="215.56" y1="86.30" x2="215.56" y2="89.60" stroke="#5e5e5e" stroke-width="0.75"/>
<text x="215.56" y="99.20" text-anchor="middle" font-size="7.8" font-weight="normal" >24</text>
<line x1="245.22" y1="86.30" x2="245.22" y2="89.60" stroke="#5e5e5e" stroke-width="0.75"/>
<text x="245.22" y="99.20" text-anchor="middle" font-size="7.8" font-weight="normal" >48</text>
<line x1="274.88" y1="86.30" x2="274.88" y2="89.60" stroke="#5e5e5e" stroke-width="0.75"/>
<text x="274.88" y="99.20" text-anchor="middle" font-size="7.8" font-weight="normal" >72</text>
<line x1="304.54" y1="86.30" x2="304.54" y2="89.60" stroke="#5e5e5e" stroke-width="0.75"/>
<text x="304.54" y="99.20" text-anchor="middle" font-size="7.8" font-weight="normal" >96</text>
<line x1="334.20" y1="86.30" x2="334.20" y2="89.60" stroke="#5e5e5e" stroke-width="0.75"/>
<text x="334.20" y="99.20" text-anchor="middle" font-size="7.8" font-weight="normal" >120</text>
<text x="260.05" y="69.10" text-anchor="middle" font-size="7.8" font-weight="normal" >DUSMC</text>
<text x="260.05" y="112.80" text-anchor="middle" font-size="7.8" font-weight="normal" >Forecast time (hours)</text>
<rect x="185.900" y="312.60" width="4.608" height="12.80" fill="#d1e5f0"/>
<rect x="189.608" y="312.60" width="4.608" height="12.80" fill="#a2cde2"/>
<rect x="193.315" y="312.60" width="4.608" height="12.80" fill="#96c7df"/>
<rect x="197.023" y="312.60" width="4.608" height="12.80" fill="#a2cde2"/>
<rect x="200.730" y="312.60" width="4.608" height="12.80" fill="#96c7df"/>
<rect x="204.438" y="312.60" width="4.608" height="12.80" fill="#74b2d4"/>
<rect x="208.145" y="312.60" width="4.608" height="12.80" fill="#4393c3"/>
<rect x="211.853" y="312.60" width="4.608" height="12.80" fill="#307ab6"/>
<rect x="215.560" y="312.60" width="4.608" height="12.80" fill="#2e77b5"/>
<rect x="219.268" y="312.60" width="4.608" height="12.80" fill="#2e77b5"/>
<rect x="222.975" y="312.60" width="4.608" height="12.80" fill="#3682ba"/>
<rect x="226.683" y="312.60" width="4.608" height="12.80" fill="#74b2d4"/>
<rect x="230.390" y="312.60" width="4.608" height="12.80" fill="#7eb8d7"/>
<rect x="234.098" y="312.60" width="4.608" height="12.80" fill="#61a6cd"/>
<rect x="237.805" y="312.60" width="4.608" height="12.80" fill="#529cc8"/>
<rect x="241.513" y="312.60" width="4.608" height="12.80" fill="#4393c3"/>
<rect x="245.220" y="312.60" width="4.608" height="12.80" fill="#4896c5"/>
<rect x="248.928" y="312.60" width="4.608" height="12.80" fill="#4d99c6"/>
<rect x="252.635" y="312.60" width="4.608" height="12.80" fill="#4d99c6"/>
<rect x="256.343" y="312.60" width="4.608" height="12.80" fill="#8dc2dc"/>
<rect x="260.050" y="312.60" width="4.608" height="12.80" fill="#8dc2dc"/>
<rect x="263.758" y="312.60" width="4.608" height="12.80" fill="#74b2d4"/>
<rect x="267.465" y="312.60" width="4.608" height="12.80" fill="#74b2d4"/>
<rect x="271.173" y="312.60" width="4.608" height="12.80" fill="#61a6cd"/>
<rect x="274.880" y="312.60" width="4.608" height="12.80" fill="#7eb8d7"/>
<rect x="278.588" y="312.60" width="4.608" height="12.80" fill="#7eb8d7"/>
<rect x="282.295" y="312.60" width="4.608" height="12.80" fill="#7eb8d7"/>
<rect x="286.002" y="312.60" width="4.608" height="12.80" fill="#aad1e5"/>
<rect x="289.710" y="312.60" width="4.608" height="12.80" fill="#aad1e5"/>
<rect x="293.418" y="312.60" width="4.608" height="12.80" fill="#9ecbe1"/>
<rect x="297.125" y="312.60" width="4.608" height="12.80" fill="#92c5de"/>
<rect x="300.833" y="312.60" width="4.608" height="12.80" fill="#92c5de"/>
<rect x="304.540" y="312.60" width="4.608" height="12.80" fill="#9ac9e0"/>
<rect x="308.248" y="312.60" width="4.608" height="12.80" fill="#9ac9e0"/>
<rect x="311.955" y="312.60" width="4.608" height="12.80" fill="#9ac9e0"/>
<rect x="315.663" y="312.60" width="4.608" height="12.80" fill="#c5dfed"/>
<rect x="319.370" y="312.60" width="4.608" height="12.80" fill="#c5dfed"/>
<rect x="323.077" y="312.60" width="4.608" height="12.80" fill="#c5dfed"/>
<rect x="326.785" y="312.60" width="4.608" height="12.80" fill="#aad1e5"/>
<rect x="330.493" y="312.60" width="3.708" height="12.80" fill="#aad1e5"/>
<rect x="185.90" y="312.60" width="148.30" height="12.80" fill="none" stroke="#000" stroke-opacity="0.48" stroke-width="0.95"/>
<line x1="185.90" y1="325.40" x2="185.90" y2="328.70" stroke="#5e5e5e" stroke-width="0.75"/>
<text x="185.90" y="338.30" text-anchor="middle" font-size="7.8" font-weight="normal" >0</text>
<line x1="215.56" y1="325.40" x2="215.56" y2="328.70" stroke="#5e5e5e" stroke-width="0.75"/>
<text x="215.56" y="338.30" text-anchor="middle" font-size="7.8" font-weight="normal" >24</text>
<line x1="245.22" y1="325.40" x2="245.22" y2="328.70" stroke="#5e5e5e" stroke-width="0.75"/>
<text x="245.22" y="338.30" text-anchor="middle" font-size="7.8" font-weight="normal" >48</text>
<line x1="274.88" y1="325.40" x2="274.88" y2="328.70" stroke="#5e5e5e" stroke-width="0.75"/>
<text x="274.88" y="338.30" text-anchor="middle" font-size="7.8" font-weight="normal" >72</text>
<line x1="304.54" y1="325.40" x2="304.54" y2="328.70" stroke="#5e5e5e" stroke-width="0.75"/>
<text x="304.54" y="338.30" text-anchor="middle" font-size="7.8" font-weight="normal" >96</text>
<line x1="334.20" y1="325.40" x2="334.20" y2="328.70" stroke="#5e5e5e" stroke-width="0.75"/>
<text x="334.20" y="338.30" text-anchor="middle" font-size="7.8" font-weight="normal" >120</text>
<text x="260.05" y="308.20" text-anchor="middle" font-size="7.8" font-weight="normal" >DUSMC</text>
<text x="260.05" y="351.90" text-anchor="middle" font-size="7.8" font-weight="normal" >Forecast time (hours)</text>
<rect x="356.400" y="73.50" width="4.608" height="12.80" fill="#ebf1f5"/>
<rect x="360.107" y="73.50" width="4.608" height="12.80" fill="#ebf1f5"/>
<rect x="363.815" y="73.50" width="4.608" height="12.80" fill="#ebf1f5"/>
<rect x="367.522" y="73.50" width="4.608" height="12.80" fill="#eef2f5"/>
<rect x="371.230" y="73.50" width="4.608" height="12.80" fill="#eef2f5"/>
<rect x="374.938" y="73.50" width="4.608" height="12.80" fill="#e9f0f4"/>
<rect x="378.645" y="73.50" width="4.608" height="12.80" fill="#dfecf3"/>
<rect x="382.352" y="73.50" width="4.608" height="12.80" fill="#ebf1f5"/>
<rect x="386.060" y="73.50" width="4.608" height="12.80" fill="#f0f4f6"/>
<rect x="389.767" y="73.50" width="4.608" height="12.80" fill="#f2f5f6"/>
<rect x="393.475" y="73.50" width="4.608" height="12.80" fill="#f2f5f6"/>
<rect x="397.183" y="73.50" width="4.608" height="12.80" fill="#f0f4f6"/>
<rect x="400.890" y="73.50" width="4.608" height="12.80" fill="#eef2f5"/>
<rect x="404.597" y="73.50" width="4.608" height="12.80" fill="#e9f0f4"/>
<rect x="408.305" y="73.50" width="4.608" height="12.80" fill="#dfecf3"/>
<rect x="412.012" y="73.50" width="4.608" height="12.80" fill="#eef2f5"/>
<rect x="415.720" y="73.50" width="4.608" height="12.80" fill="#f2f5f6"/>
<rect x="419.428" y="73.50" width="4.608" height="12.80" fill="#f5f6f7"/>
<rect x="423.135" y="73.50" width="4.608" height="12.80" fill="#f5f6f7"/>
<rect x="426.842" y="73.50" width="4.608" height="12.80" fill="#f2f5f6"/>
<rect x="430.550" y="73.50" width="4.608" height="12.80" fill="#f0f4f6"/>
<rect x="434.257" y="73.50" width="4.608" height="12.80" fill="#e9f0f4"/>
<rect x="437.965" y="73.50" width="4.608" height="12.80" fill="#dfecf3"/>
<rect x="441.673" y="73.50" width="4.608" height="12.80" fill="#e9f0f4"/>
<rect x="445.380" y="73.50" width="4.608" height="12.80" fill="#eef2f5"/>
<rect x="449.087" y="73.50" width="4.608" height="12.80" fill="#eef2f5"/>
<rect x="452.795" y="73.50" width="4.608" height="12.80" fill="#ebf1f5"/>
<rect x="456.502" y="73.50" width="4.608" height="12.80" fill="#e6eff4"/>
<rect x="460.210" y="73.50" width="4.608" height="12.80" fill="#e2edf3"/>
<rect x="463.918" y="73.50" width="4.608" height="12.80" fill="#ddebf2"/>
<rect x="467.625" y="73.50" width="4.608" height="12.80" fill="#dfecf3"/>
<rect x="471.332" y="73.50" width="4.608" height="12.80" fill="#e9f0f4"/>
<rect x="475.040" y="73.50" width="4.608" height="12.80" fill="#eef2f5"/>
<rect x="478.748" y="73.50" width="4.608" height="12.80" fill="#eef2f5"/>
<rect x="482.455" y="73.50" width="4.608" height="12.80" fill="#eef2f5"/>
<rect x="486.163" y="73.50" width="4.608" height="12.80" fill="#ebf1f5"/>
<rect x="489.870" y="73.50" width="4.608" height="12.80" fill="#e9f0f4"/>
<rect x="493.577" y="73.50" width="4.608" height="12.80" fill="#e4eef4"/>
<rect x="497.285" y="73.50" width="4.608" height="12.80" fill="#ddebf2"/>
<rect x="500.993" y="73.50" width="3.708" height="12.80" fill="#dfecf3"/>
<rect x="356.40" y="73.50" width="148.30" height="12.80" fill="none" stroke="#000" stroke-opacity="0.48" stroke-width="0.95"/>
<line x1="356.40" y1="86.30" x2="356.40" y2="89.60" stroke="#5e5e5e" stroke-width="0.75"/>
<text x="356.40" y="99.20" text-anchor="middle" font-size="7.8" font-weight="normal" >0</text>
<line x1="386.06" y1="86.30" x2="386.06" y2="89.60" stroke="#5e5e5e" stroke-width="0.75"/>
<text x="386.06" y="99.20" text-anchor="middle" font-size="7.8" font-weight="normal" >24</text>
<line x1="415.72" y1="86.30" x2="415.72" y2="89.60" stroke="#5e5e5e" stroke-width="0.75"/>
<text x="415.72" y="99.20" text-anchor="middle" font-size="7.8" font-weight="normal" >48</text>
<line x1="445.38" y1="86.30" x2="445.38" y2="89.60" stroke="#5e5e5e" stroke-width="0.75"/>
<text x="445.38" y="99.20" text-anchor="middle" font-size="7.8" font-weight="normal" >72</text>
<line x1="475.04" y1="86.30" x2="475.04" y2="89.60" stroke="#5e5e5e" stroke-width="0.75"/>
<text x="475.04" y="99.20" text-anchor="middle" font-size="7.8" font-weight="normal" >96</text>
<line x1="504.70" y1="86.30" x2="504.70" y2="89.60" stroke="#5e5e5e" stroke-width="0.75"/>
<text x="504.70" y="99.20" text-anchor="middle" font-size="7.8" font-weight="normal" >120</text>
<text x="430.55" y="69.10" text-anchor="middle" font-size="7.8" font-weight="normal" >BCAOD</text>
<text x="430.55" y="112.80" text-anchor="middle" font-size="7.8" font-weight="normal" >Forecast time (hours)</text>
<rect x="356.400" y="312.60" width="4.608" height="12.80" fill="#b2d5e7"/>
<rect x="360.107" y="312.60" width="4.608" height="12.80" fill="#a2cde2"/>
<rect x="363.815" y="312.60" width="4.608" height="12.80" fill="#a6cfe4"/>
<rect x="367.522" y="312.60" width="4.608" height="12.80" fill="#b2d5e7"/>
<rect x="371.230" y="312.60" width="4.608" height="12.80" fill="#b2d5e7"/>
<rect x="374.938" y="312.60" width="4.608" height="12.80" fill="#aed3e6"/>
<rect x="378.645" y="312.60" width="4.608" height="12.80" fill="#96c7df"/>
<rect x="382.352" y="312.60" width="4.608" height="12.80" fill="#bddbea"/>
<rect x="386.060" y="312.60" width="4.608" height="12.80" fill="#c9e1ee"/>
<rect x="389.767" y="312.60" width="4.608" height="12.80" fill="#d1e5f0"/>
<rect x="393.475" y="312.60" width="4.608" height="12.80" fill="#d3e6f0"/>
<rect x="397.183" y="312.60" width="4.608" height="12.80" fill="#d1e5f0"/>
<rect x="400.890" y="312.60" width="4.608" height="12.80" fill="#c5dfed"/>
<rect x="404.597" y="312.60" width="4.608" height="12.80" fill="#bddbea"/>
<rect x="408.305" y="312.60" width="4.608" height="12.80" fill="#9ecbe1"/>
<rect x="412.012" y="312.60" width="4.608" height="12.80" fill="#cde3ef"/>
<rect x="415.720" y="312.60" width="4.608" height="12.80" fill="#d6e7f1"/>
<rect x="419.428" y="312.60" width="4.608" height="12.80" fill="#ddebf2"/>
<rect x="423.135" y="312.60" width="4.608" height="12.80" fill="#e2edf3"/>
<rect x="426.842" y="312.60" width="4.608" height="12.80" fill="#dfecf3"/>
<rect x="430.550" y="312.60" width="4.608" height="12.80" fill="#d6e7f1"/>
<rect x="434.257" y="312.60" width="4.608" height="12.80" fill="#c9e1ee"/>
<rect x="437.965" y="312.60" width="4.608" height="12.80" fill="#9ecbe1"/>
<rect x="441.673" y="312.60" width="4.608" height="12.80" fill="#c5dfed"/>
<rect x="445.380" y="312.60" width="4.608" height="12.80" fill="#d1e5f0"/>
<rect x="449.087" y="312.60" width="4.608" height="12.80" fill="#d8e8f1"/>
<rect x="452.795" y="312.60" width="4.608" height="12.80" fill="#d6e7f1"/>
<rect x="456.502" y="312.60" width="4.608" height="12.80" fill="#c9e1ee"/>
<rect x="460.210" y="312.60" width="4.608" height="12.80" fill="#b9d9e9"/>
<rect x="463.918" y="312.60" width="4.608" height="12.80" fill="#aed3e6"/>
<rect x="467.625" y="312.60" width="4.608" height="12.80" fill="#9ecbe1"/>
<rect x="471.332" y="312.60" width="4.608" height="12.80" fill="#d3e6f0"/>
<rect x="475.040" y="312.60" width="4.608" height="12.80" fill="#d8e8f1"/>
<rect x="478.748" y="312.60" width="4.608" height="12.80" fill="#daeaf2"/>
<rect x="482.455" y="312.60" width="4.608" height="12.80" fill="#daeaf2"/>
<rect x="486.163" y="312.60" width="4.608" height="12.80" fill="#d8e8f1"/>
<rect x="489.870" y="312.60" width="4.608" height="12.80" fill="#d1e5f0"/>
<rect x="493.577" y="312.60" width="4.608" height="12.80" fill="#b9d9e9"/>
<rect x="497.285" y="312.60" width="4.608" height="12.80" fill="#a6cfe4"/>
<rect x="500.993" y="312.60" width="3.708" height="12.80" fill="#b2d5e7"/>
<rect x="356.40" y="312.60" width="148.30" height="12.80" fill="none" stroke="#000" stroke-opacity="0.48" stroke-width="0.95"/>
<line x1="356.40" y1="325.40" x2="356.40" y2="328.70" stroke="#5e5e5e" stroke-width="0.75"/>
<text x="356.40" y="338.30" text-anchor="middle" font-size="7.8" font-weight="normal" >0</text>
<line x1="386.06" y1="325.40" x2="386.06" y2="328.70" stroke="#5e5e5e" stroke-width="0.75"/>
<text x="386.06" y="338.30" text-anchor="middle" font-size="7.8" font-weight="normal" >24</text>
<line x1="415.72" y1="325.40" x2="415.72" y2="328.70" stroke="#5e5e5e" stroke-width="0.75"/>
<text x="415.72" y="338.30" text-anchor="middle" font-size="7.8" font-weight="normal" >48</text>
<line x1="445.38" y1="325.40" x2="445.38" y2="328.70" stroke="#5e5e5e" stroke-width="0.75"/>
<text x="445.38" y="338.30" text-anchor="middle" font-size="7.8" font-weight="normal" >72</text>
<line x1="475.04" y1="325.40" x2="475.04" y2="328.70" stroke="#5e5e5e" stroke-width="0.75"/>
<text x="475.04" y="338.30" text-anchor="middle" font-size="7.8" font-weight="normal" >96</text>
<line x1="504.70" y1="325.40" x2="504.70" y2="328.70" stroke="#5e5e5e" stroke-width="0.75"/>
<text x="504.70" y="338.30" text-anchor="middle" font-size="7.8" font-weight="normal" >120</text>
<text x="430.55" y="308.20" text-anchor="middle" font-size="7.8" font-weight="normal" >BCAOD</text>
<text x="430.55" y="351.90" text-anchor="middle" font-size="7.8" font-weight="normal" >Forecast time (hours)</text>
<rect x="526.900" y="73.50" width="4.608" height="12.80" fill="#b2d5e7"/>
<rect x="530.607" y="73.50" width="4.608" height="12.80" fill="#e9f0f4"/>
<rect x="534.315" y="73.50" width="4.608" height="12.80" fill="#faebe2"/>
<rect x="538.023" y="73.50" width="4.608" height="12.80" fill="#fac7ad"/>
<rect x="541.730" y="73.50" width="4.608" height="12.80" fill="#fac7ad"/>
<rect x="545.438" y="73.50" width="4.608" height="12.80" fill="#f8f2ee"/>
<rect x="549.145" y="73.50" width="4.608" height="12.80" fill="#c5dfed"/>
<rect x="552.852" y="73.50" width="4.608" height="12.80" fill="#c1ddec"/>
<rect x="556.560" y="73.50" width="4.608" height="12.80" fill="#88bfdb"/>
<rect x="560.267" y="73.50" width="4.608" height="12.80" fill="#aad1e5"/>
<rect x="563.975" y="73.50" width="4.608" height="12.80" fill="#f7f7f7"/>
<rect x="567.683" y="73.50" width="4.608" height="12.80" fill="#faebe2"/>
<rect x="571.390" y="73.50" width="4.608" height="12.80" fill="#faebe2"/>
<rect x="575.097" y="73.50" width="4.608" height="12.80" fill="#e4eef4"/>
<rect x="578.805" y="73.50" width="4.608" height="12.80" fill="#88bfdb"/>
<rect x="582.512" y="73.50" width="4.608" height="12.80" fill="#aad1e5"/>
<rect x="586.220" y="73.50" width="4.608" height="12.80" fill="#4896c5"/>
<rect x="589.928" y="73.50" width="4.608" height="12.80" fill="#4896c5"/>
<rect x="593.635" y="73.50" width="4.608" height="12.80" fill="#d1e5f0"/>
<rect x="597.342" y="73.50" width="4.608" height="12.80" fill="#dfecf3"/>
<rect x="601.050" y="73.50" width="4.608" height="12.80" fill="#dfecf3"/>
<rect x="604.757" y="73.50" width="4.608" height="12.80" fill="#88bfdb"/>
<rect x="608.465" y="73.50" width="4.608" height="12.80" fill="#2a71b2"/>
<rect x="612.173" y="73.50" width="4.608" height="12.80" fill="#3f8dc0"/>
<rect x="615.880" y="73.50" width="4.608" height="12.80" fill="#134b86"/>
<rect x="619.587" y="73.50" width="4.608" height="12.80" fill="#2a71b2"/>
<rect x="623.295" y="73.50" width="4.608" height="12.80" fill="#a2cde2"/>
<rect x="627.002" y="73.50" width="4.608" height="12.80" fill="#9ac9e0"/>
<rect x="630.710" y="73.50" width="4.608" height="12.80" fill="#a2cde2"/>
<rect x="634.418" y="73.50" width="4.608" height="12.80" fill="#134b86"/>
<rect x="638.125" y="73.50" width="4.608" height="12.80" fill="#08376a"/>
<rect x="641.832" y="73.50" width="4.608" height="12.80" fill="#08376a"/>
<rect x="645.540" y="73.50" width="4.608" height="12.80" fill="#08376a"/>
<rect x="649.247" y="73.50" width="4.608" height="12.80" fill="#08376a"/>
<rect x="652.955" y="73.50" width="4.608" height="12.80" fill="#4d99c6"/>
<rect x="656.663" y="73.50" width="4.608" height="12.80" fill="#6fafd2"/>
<rect x="660.370" y="73.50" width="4.608" height="12.80" fill="#6fafd2"/>
<rect x="664.077" y="73.50" width="4.608" height="12.80" fill="#08376a"/>
<rect x="667.785" y="73.50" width="4.608" height="12.80" fill="#08376a"/>
<rect x="671.493" y="73.50" width="3.708" height="12.80" fill="#08376a"/>
<rect x="526.90" y="73.50" width="148.30" height="12.80" fill="none" stroke="#000" stroke-opacity="0.48" stroke-width="0.95"/>
<line x1="526.90" y1="86.30" x2="526.90" y2="89.60" stroke="#5e5e5e" stroke-width="0.75"/>
<text x="526.90" y="99.20" text-anchor="middle" font-size="7.8" font-weight="normal" >0</text>
<line x1="556.56" y1="86.30" x2="556.56" y2="89.60" stroke="#5e5e5e" stroke-width="0.75"/>
<text x="556.56" y="99.20" text-anchor="middle" font-size="7.8" font-weight="normal" >24</text>
<line x1="586.22" y1="86.30" x2="586.22" y2="89.60" stroke="#5e5e5e" stroke-width="0.75"/>
<text x="586.22" y="99.20" text-anchor="middle" font-size="7.8" font-weight="normal" >48</text>
<line x1="615.88" y1="86.30" x2="615.88" y2="89.60" stroke="#5e5e5e" stroke-width="0.75"/>
<text x="615.88" y="99.20" text-anchor="middle" font-size="7.8" font-weight="normal" >72</text>
<line x1="645.54" y1="86.30" x2="645.54" y2="89.60" stroke="#5e5e5e" stroke-width="0.75"/>
<text x="645.54" y="99.20" text-anchor="middle" font-size="7.8" font-weight="normal" >96</text>
<line x1="675.20" y1="86.30" x2="675.20" y2="89.60" stroke="#5e5e5e" stroke-width="0.75"/>
<text x="675.20" y="99.20" text-anchor="middle" font-size="7.8" font-weight="normal" >120</text>
<text x="601.05" y="69.10" text-anchor="middle" font-size="7.8" font-weight="normal" >BCSMC</text>
<text x="601.05" y="112.80" text-anchor="middle" font-size="7.8" font-weight="normal" >Forecast time (hours)</text>
<rect x="526.900" y="312.60" width="4.608" height="12.80" fill="#2166ac"/>
<rect x="530.607" y="312.60" width="4.608" height="12.80" fill="#4190c2"/>
<rect x="534.315" y="312.60" width="4.608" height="12.80" fill="#88bfdb"/>
<rect x="538.023" y="312.60" width="4.608" height="12.80" fill="#bddbea"/>
<rect x="541.730" y="312.60" width="4.608" height="12.80" fill="#bddbea"/>
<rect x="545.438" y="312.60" width="4.608" height="12.80" fill="#79b5d6"/>
<rect x="549.145" y="312.60" width="4.608" height="12.80" fill="#053061"/>
<rect x="552.852" y="312.60" width="4.608" height="12.80" fill="#276eb0"/>
<rect x="556.560" y="312.60" width="4.608" height="12.80" fill="#08376a"/>
<rect x="560.267" y="312.60" width="4.608" height="12.80" fill="#2a71b2"/>
<rect x="563.975" y="312.60" width="4.608" height="12.80" fill="#79b5d6"/>
<rect x="567.683" y="312.60" width="4.608" height="12.80" fill="#79b5d6"/>
<rect x="571.390" y="312.60" width="4.608" height="12.80" fill="#79b5d6"/>
<rect x="575.097" y="312.60" width="4.608" height="12.80" fill="#3f8dc0"/>
<rect x="578.805" y="312.60" width="4.608" height="12.80" fill="#10447d"/>
<rect x="582.512" y="312.60" width="4.608" height="12.80" fill="#1a5899"/>
<rect x="586.220" y="312.60" width="4.608" height="12.80" fill="#053061"/>
<rect x="589.928" y="312.60" width="4.608" height="12.80" fill="#2166ac"/>
<rect x="593.635" y="312.60" width="4.608" height="12.80" fill="#3f8dc0"/>
<rect x="597.342" y="312.60" width="4.608" height="12.80" fill="#4d99c6"/>
<rect x="601.050" y="312.60" width="4.608" height="12.80" fill="#4d99c6"/>
<rect x="604.757" y="312.60" width="4.608" height="12.80" fill="#2a71b2"/>
<rect x="608.465" y="312.60" width="4.608" height="12.80" fill="#08376a"/>
<rect x="612.173" y="312.60" width="4.608" height="12.80" fill="#053061"/>
<rect x="615.880" y="312.60" width="4.608" height="12.80" fill="#053061"/>
<rect x="619.587" y="312.60" width="4.608" height="12.80" fill="#0c3e74"/>
<rect x="623.295" y="312.60" width="4.608" height="12.80" fill="#3682ba"/>
<rect x="627.002" y="312.60" width="4.608" height="12.80" fill="#3f8dc0"/>
<rect x="630.710" y="312.60" width="4.608" height="12.80" fill="#3f8dc0"/>
<rect x="634.418" y="312.60" width="4.608" height="12.80" fill="#165290"/>
<rect x="638.125" y="312.60" width="4.608" height="12.80" fill="#053061"/>
<rect x="641.832" y="312.60" width="4.608" height="12.80" fill="#053061"/>
<rect x="645.540" y="312.60" width="4.608" height="12.80" fill="#053061"/>
<rect x="649.247" y="312.60" width="4.608" height="12.80" fill="#10447d"/>
<rect x="652.955" y="312.60" width="4.608" height="12.80" fill="#3682ba"/>
<rect x="656.663" y="312.60" width="4.608" height="12.80" fill="#3f8dc0"/>
<rect x="660.370" y="312.60" width="4.608" height="12.80" fill="#3f8dc0"/>
<rect x="664.077" y="312.60" width="4.608" height="12.80" fill="#2369ad"/>
<rect x="667.785" y="312.60" width="4.608" height="12.80" fill="#08376a"/>
<rect x="671.493" y="312.60" width="3.708" height="12.80" fill="#08376a"/>
<rect x="526.90" y="312.60" width="148.30" height="12.80" fill="none" stroke="#000" stroke-opacity="0.48" stroke-width="0.95"/>
<line x1="526.90" y1="325.40" x2="526.90" y2="328.70" stroke="#5e5e5e" stroke-width="0.75"/>
<text x="526.90" y="338.30" text-anchor="middle" font-size="7.8" font-weight="normal" >0</text>
<line x1="556.56" y1="325.40" x2="556.56" y2="328.70" stroke="#5e5e5e" stroke-width="0.75"/>
<text x="556.56" y="338.30" text-anchor="middle" font-size="7.8" font-weight="normal" >24</text>
<line x1="586.22" y1="325.40" x2="586.22" y2="328.70" stroke="#5e5e5e" stroke-width="0.75"/>
<text x="586.22" y="338.30" text-anchor="middle" font-size="7.8" font-weight="normal" >48</text>
<line x1="615.88" y1="325.40" x2="615.88" y2="328.70" stroke="#5e5e5e" stroke-width="0.75"/>
<text x="615.88" y="338.30" text-anchor="middle" font-size="7.8" font-weight="normal" >72</text>
<line x1="645.54" y1="325.40" x2="645.54" y2="328.70" stroke="#5e5e5e" stroke-width="0.75"/>
<text x="645.54" y="338.30" text-anchor="middle" font-size="7.8" font-weight="normal" >96</text>
<line x1="675.20" y1="325.40" x2="675.20" y2="328.70" stroke="#5e5e5e" stroke-width="0.75"/>
<text x="675.20" y="338.30" text-anchor="middle" font-size="7.8" font-weight="normal" >120</text>
<text x="601.05" y="308.20" text-anchor="middle" font-size="7.8" font-weight="normal" >BCSMC</text>
<text x="601.05" y="351.90" text-anchor="middle" font-size="7.8" font-weight="normal" >Forecast time (hours)</text>
<rect x="15.500" y="133.50" width="4.608" height="12.80" fill="#daeaf2"/>
<rect x="19.207" y="133.50" width="4.608" height="12.80" fill="#ddebf2"/>
<rect x="22.915" y="133.50" width="4.608" height="12.80" fill="#daeaf2"/>
<rect x="26.623" y="133.50" width="4.608" height="12.80" fill="#d8e8f1"/>
<rect x="30.330" y="133.50" width="4.608" height="12.80" fill="#daeaf2"/>
<rect x="34.038" y="133.50" width="4.608" height="12.80" fill="#daeaf2"/>
<rect x="37.745" y="133.50" width="4.608" height="12.80" fill="#d6e7f1"/>
<rect x="41.453" y="133.50" width="4.608" height="12.80" fill="#d6e7f1"/>
<rect x="45.160" y="133.50" width="4.608" height="12.80" fill="#daeaf2"/>
<rect x="48.868" y="133.50" width="4.608" height="12.80" fill="#daeaf2"/>
<rect x="52.575" y="133.50" width="4.608" height="12.80" fill="#daeaf2"/>
<rect x="56.283" y="133.50" width="4.608" height="12.80" fill="#daeaf2"/>
<rect x="59.990" y="133.50" width="4.608" height="12.80" fill="#d8e8f1"/>
<rect x="63.698" y="133.50" width="4.608" height="12.80" fill="#d6e7f1"/>
<rect x="67.405" y="133.50" width="4.608" height="12.80" fill="#d6e7f1"/>
<rect x="71.113" y="133.50" width="4.608" height="12.80" fill="#dfecf3"/>
<rect x="74.820" y="133.50" width="4.608" height="12.80" fill="#e4eef4"/>
<rect x="78.528" y="133.50" width="4.608" height="12.80" fill="#e9f0f4"/>
<rect x="82.235" y="133.50" width="4.608" height="12.80" fill="#eef2f5"/>
<rect x="85.943" y="133.50" width="4.608" height="12.80" fill="#eef2f5"/>
<rect x="89.650" y="133.50" width="4.608" height="12.80" fill="#ebf1f5"/>
<rect x="93.358" y="133.50" width="4.608" height="12.80" fill="#e9f0f4"/>
<rect x="97.065" y="133.50" width="4.608" height="12.80" fill="#e9f0f4"/>
<rect x="100.773" y="133.50" width="4.608" height="12.80" fill="#ebf1f5"/>
<rect x="104.480" y="133.50" width="4.608" height="12.80" fill="#e9f0f4"/>
<rect x="108.188" y="133.50" width="4.608" height="12.80" fill="#e4eef4"/>
<rect x="111.895" y="133.50" width="4.608" height="12.80" fill="#dfecf3"/>
<rect x="115.603" y="133.50" width="4.608" height="12.80" fill="#d8e8f1"/>
<rect x="119.310" y="133.50" width="4.608" height="12.80" fill="#d8e8f1"/>
<rect x="123.018" y="133.50" width="4.608" height="12.80" fill="#d8e8f1"/>
<rect x="126.725" y="133.50" width="4.608" height="12.80" fill="#d8e8f1"/>
<rect x="130.433" y="133.50" width="4.608" height="12.80" fill="#d8e8f1"/>
<rect x="134.140" y="133.50" width="4.608" height="12.80" fill="#d8e8f1"/>
<rect x="137.848" y="133.50" width="4.608" height="12.80" fill="#d6e7f1"/>
<rect x="141.555" y="133.50" width="4.608" height="12.80" fill="#d6e7f1"/>
<rect x="145.263" y="133.50" width="4.608" height="12.80" fill="#d6e7f1"/>
<rect x="148.970" y="133.50" width="4.608" height="12.80" fill="#d6e7f1"/>
<rect x="152.678" y="133.50" width="4.608" height="12.80" fill="#d6e7f1"/>
<rect x="156.385" y="133.50" width="4.608" height="12.80" fill="#d1e5f0"/>
<rect x="160.093" y="133.50" width="3.708" height="12.80" fill="#d1e5f0"/>
<rect x="15.50" y="133.50" width="148.30" height="12.80" fill="none" stroke="#000" stroke-opacity="0.48" stroke-width="0.95"/>
<line x1="15.50" y1="146.30" x2="15.50" y2="149.60" stroke="#5e5e5e" stroke-width="0.75"/>
<text x="15.50" y="159.20" text-anchor="middle" font-size="7.8" font-weight="normal" >0</text>
<line x1="45.16" y1="146.30" x2="45.16" y2="149.60" stroke="#5e5e5e" stroke-width="0.75"/>
<text x="45.16" y="159.20" text-anchor="middle" font-size="7.8" font-weight="normal" >24</text>
<line x1="74.82" y1="146.30" x2="74.82" y2="149.60" stroke="#5e5e5e" stroke-width="0.75"/>
<text x="74.82" y="159.20" text-anchor="middle" font-size="7.8" font-weight="normal" >48</text>
<line x1="104.48" y1="146.30" x2="104.48" y2="149.60" stroke="#5e5e5e" stroke-width="0.75"/>
<text x="104.48" y="159.20" text-anchor="middle" font-size="7.8" font-weight="normal" >72</text>
<line x1="134.14" y1="146.30" x2="134.14" y2="149.60" stroke="#5e5e5e" stroke-width="0.75"/>
<text x="134.14" y="159.20" text-anchor="middle" font-size="7.8" font-weight="normal" >96</text>
<line x1="163.80" y1="146.30" x2="163.80" y2="149.60" stroke="#5e5e5e" stroke-width="0.75"/>
<text x="163.80" y="159.20" text-anchor="middle" font-size="7.8" font-weight="normal" >120</text>
<text x="89.65" y="129.10" text-anchor="middle" font-size="7.8" font-weight="normal" >OCAOD</text>
<text x="89.65" y="172.80" text-anchor="middle" font-size="7.8" font-weight="normal" >Forecast time (hours)</text>
<rect x="15.500" y="372.70" width="4.608" height="12.80" fill="#4d99c6"/>
<rect x="19.207" y="372.70" width="4.608" height="12.80" fill="#327cb8"/>
<rect x="22.915" y="372.70" width="4.608" height="12.80" fill="#4393c3"/>
<rect x="26.623" y="372.70" width="4.608" height="12.80" fill="#4d99c6"/>
<rect x="30.330" y="372.70" width="4.608" height="12.80" fill="#61a6cd"/>
<rect x="34.038" y="372.70" width="4.608" height="12.80" fill="#61a6cd"/>
<rect x="37.745" y="372.70" width="4.608" height="12.80" fill="#61a6cd"/>
<rect x="41.453" y="372.70" width="4.608" height="12.80" fill="#61a6cd"/>
<rect x="45.160" y="372.70" width="4.608" height="12.80" fill="#6fafd2"/>
<rect x="48.868" y="372.70" width="4.608" height="12.80" fill="#6fafd2"/>
<rect x="52.575" y="372.70" width="4.608" height="12.80" fill="#6fafd2"/>
<rect x="56.283" y="372.70" width="4.608" height="12.80" fill="#6fafd2"/>
<rect x="59.990" y="372.70" width="4.608" height="12.80" fill="#6fafd2"/>
<rect x="63.698" y="372.70" width="4.608" height="12.80" fill="#6fafd2"/>
<rect x="67.405" y="372.70" width="4.608" height="12.80" fill="#6fafd2"/>
<rect x="71.113" y="372.70" width="4.608" height="12.80" fill="#8dc2dc"/>
<rect x="74.820" y="372.70" width="4.608" height="12.80" fill="#8dc2dc"/>
<rect x="78.528" y="372.70" width="4.608" height="12.80" fill="#9ecbe1"/>
<rect x="82.235" y="372.70" width="4.608" height="12.80" fill="#9ecbe1"/>
<rect x="85.943" y="372.70" width="4.608" height="12.80" fill="#9ecbe1"/>
<rect x="89.650" y="372.70" width="4.608" height="12.80" fill="#8dc2dc"/>
<rect x="93.358" y="372.70" width="4.608" height="12.80" fill="#8dc2dc"/>
<rect x="97.065" y="372.70" width="4.608" height="12.80" fill="#8dc2dc"/>
<rect x="100.773" y="372.70" width="4.608" height="12.80" fill="#9ecbe1"/>
<rect x="104.480" y="372.70" width="4.608" height="12.80" fill="#9ecbe1"/>
<rect x="108.188" y="372.70" width="4.608" height="12.80" fill="#9ecbe1"/>
<rect x="111.895" y="372.70" width="4.608" height="12.80" fill="#8dc2dc"/>
<rect x="115.603" y="372.70" width="4.608" height="12.80" fill="#8dc2dc"/>
<rect x="119.310" y="372.70" width="4.608" height="12.80" fill="#8dc2dc"/>
<rect x="123.018" y="372.70" width="4.608" height="12.80" fill="#8dc2dc"/>
<rect x="126.725" y="372.70" width="4.608" height="12.80" fill="#a2cde2"/>
<rect x="130.433" y="372.70" width="4.608" height="12.80" fill="#a2cde2"/>
<rect x="134.140" y="372.70" width="4.608" height="12.80" fill="#a2cde2"/>
<rect x="137.848" y="372.70" width="4.608" height="12.80" fill="#a2cde2"/>
<rect x="141.555" y="372.70" width="4.608" height="12.80" fill="#a6cfe4"/>
<rect x="145.263" y="372.70" width="4.608" height="12.80" fill="#a6cfe4"/>
<rect x="148.970" y="372.70" width="4.608" height="12.80" fill="#a6cfe4"/>
<rect x="152.678" y="372.70" width="4.608" height="12.80" fill="#a6cfe4"/>
<rect x="156.385" y="372.70" width="4.608" height="12.80" fill="#a6cfe4"/>
<rect x="160.093" y="372.70" width="3.708" height="12.80" fill="#a6cfe4"/>
<rect x="15.50" y="372.70" width="148.30" height="12.80" fill="none" stroke="#000" stroke-opacity="0.48" stroke-width="0.95"/>
<line x1="15.50" y1="385.50" x2="15.50" y2="388.80" stroke="#5e5e5e" stroke-width="0.75"/>
<text x="15.50" y="398.40" text-anchor="middle" font-size="7.8" font-weight="normal" >0</text>
<line x1="45.16" y1="385.50" x2="45.16" y2="388.80" stroke="#5e5e5e" stroke-width="0.75"/>
<text x="45.16" y="398.40" text-anchor="middle" font-size="7.8" font-weight="normal" >24</text>
<line x1="74.82" y1="385.50" x2="74.82" y2="388.80" stroke="#5e5e5e" stroke-width="0.75"/>
<text x="74.82" y="398.40" text-anchor="middle" font-size="7.8" font-weight="normal" >48</text>
<line x1="104.48" y1="385.50" x2="104.48" y2="388.80" stroke="#5e5e5e" stroke-width="0.75"/>
<text x="104.48" y="398.40" text-anchor="middle" font-size="7.8" font-weight="normal" >72</text>
<line x1="134.14" y1="385.50" x2="134.14" y2="388.80" stroke="#5e5e5e" stroke-width="0.75"/>
<text x="134.14" y="398.40" text-anchor="middle" font-size="7.8" font-weight="normal" >96</text>
<line x1="163.80" y1="385.50" x2="163.80" y2="388.80" stroke="#5e5e5e" stroke-width="0.75"/>
<text x="163.80" y="398.40" text-anchor="middle" font-size="7.8" font-weight="normal" >120</text>
<text x="89.65" y="368.30" text-anchor="middle" font-size="7.8" font-weight="normal" >OCAOD</text>
<text x="89.65" y="412.00" text-anchor="middle" font-size="7.8" font-weight="normal" >Forecast time (hours)</text>
<rect x="185.900" y="133.50" width="4.608" height="12.80" fill="#aad1e5"/>
<rect x="189.608" y="133.50" width="4.608" height="12.80" fill="#f8f4f1"/>
<rect x="193.315" y="133.50" width="4.608" height="12.80" fill="#f8c0a4"/>
<rect x="197.023" y="133.50" width="4.608" height="12.80" fill="#f4a582"/>
<rect x="200.730" y="133.50" width="4.608" height="12.80" fill="#e58268"/>
<rect x="204.438" y="133.50" width="4.608" height="12.80" fill="#f7b99c"/>
<rect x="208.145" y="133.50" width="4.608" height="12.80" fill="#fae9df"/>
<rect x="211.853" y="133.50" width="4.608" height="12.80" fill="#fae9df"/>
<rect x="215.560" y="133.50" width="4.608" height="12.80" fill="#b9d9e9"/>
<rect x="219.268" y="133.50" width="4.608" height="12.80" fill="#e4eef4"/>
<rect x="222.975" y="133.50" width="4.608" height="12.80" fill="#fbe6d9"/>
<rect x="226.683" y="133.50" width="4.608" height="12.80" fill="#fac7ad"/>
<rect x="230.390" y="133.50" width="4.608" height="12.80" fill="#f5ac8b"/>
<rect x="234.098" y="133.50" width="4.608" height="12.80" fill="#fcdecd"/>
<rect x="237.805" y="133.50" width="4.608" height="12.80" fill="#f8f4f1"/>
<rect x="241.513" y="133.50" width="4.608" height="12.80" fill="#f9eee8"/>
<rect x="245.220" y="133.50" width="4.608" height="12.80" fill="#aad1e5"/>
<rect x="248.928" y="133.50" width="4.608" height="12.80" fill="#b2d5e7"/>
<rect x="252.635" y="133.50" width="4.608" height="12.80" fill="#f7f5f4"/>
<rect x="256.343" y="133.50" width="4.608" height="12.80" fill="#fce2d3"/>
<rect x="260.050" y="133.50" width="4.608" height="12.80" fill="#f6b293"/>
<rect x="263.758" y="133.50" width="4.608" height="12.80" fill="#f8f0eb"/>
<rect x="267.465" y="133.50" width="4.608" height="12.80" fill="#e4eef4"/>
<rect x="271.173" y="133.50" width="4.608" height="12.80" fill="#e4eef4"/>
<rect x="274.880" y="133.50" width="4.608" height="12.80" fill="#4393c3"/>
<rect x="278.588" y="133.50" width="4.608" height="12.80" fill="#9ac9e0"/>
<rect x="282.295" y="133.50" width="4.608" height="12.80" fill="#f7f7f7"/>
<rect x="286.002" y="133.50" width="4.608" height="12.80" fill="#f9ece5"/>
<rect x="289.710" y="133.50" width="4.608" height="12.80" fill="#f7b99c"/>
<rect x="293.418" y="133.50" width="4.608" height="12.80" fill="#e4eef4"/>
<rect x="297.125" y="133.50" width="4.608" height="12.80" fill="#7eb8d7"/>
<rect x="300.833" y="133.50" width="4.608" height="12.80" fill="#7eb8d7"/>
<rect x="304.540" y="133.50" width="4.608" height="12.80" fill="#1e5fa3"/>
<rect x="308.248" y="133.50" width="4.608" height="12.80" fill="#4393c3"/>
<rect x="311.955" y="133.50" width="4.608" height="12.80" fill="#e4eef4"/>
<rect x="315.663" y="133.50" width="4.608" height="12.80" fill="#f8f0eb"/>
<rect x="319.370" y="133.50" width="4.608" height="12.80" fill="#fddbc7"/>
<rect x="323.077" y="133.50" width="4.608" height="12.80" fill="#92c5de"/>
<rect x="326.785" y="133.50" width="4.608" height="12.80" fill="#4d99c6"/>
<rect x="330.493" y="133.50" width="3.708" height="12.80" fill="#61a6cd"/>
<rect x="185.90" y="133.50" width="148.30" height="12.80" fill="none" stroke="#000" stroke-opacity="0.48" stroke-width="0.95"/>
<line x1="185.90" y1="146.30" x2="185.90" y2="149.60" stroke="#5e5e5e" stroke-width="0.75"/>
<text x="185.90" y="159.20" text-anchor="middle" font-size="7.8" font-weight="normal" >0</text>
<line x1="215.56" y1="146.30" x2="215.56" y2="149.60" stroke="#5e5e5e" stroke-width="0.75"/>
<text x="215.56" y="159.20" text-anchor="middle" font-size="7.8" font-weight="normal" >24</text>
<line x1="245.22" y1="146.30" x2="245.22" y2="149.60" stroke="#5e5e5e" stroke-width="0.75"/>
<text x="245.22" y="159.20" text-anchor="middle" font-size="7.8" font-weight="normal" >48</text>
<line x1="274.88" y1="146.30" x2="274.88" y2="149.60" stroke="#5e5e5e" stroke-width="0.75"/>
<text x="274.88" y="159.20" text-anchor="middle" font-size="7.8" font-weight="normal" >72</text>
<line x1="304.54" y1="146.30" x2="304.54" y2="149.60" stroke="#5e5e5e" stroke-width="0.75"/>
<text x="304.54" y="159.20" text-anchor="middle" font-size="7.8" font-weight="normal" >96</text>
<line x1="334.20" y1="146.30" x2="334.20" y2="149.60" stroke="#5e5e5e" stroke-width="0.75"/>
<text x="334.20" y="159.20" text-anchor="middle" font-size="7.8" font-weight="normal" >120</text>
<text x="260.05" y="129.10" text-anchor="middle" font-size="7.8" font-weight="normal" >OCSMC</text>
<text x="260.05" y="172.80" text-anchor="middle" font-size="7.8" font-weight="normal" >Forecast time (hours)</text>
<rect x="185.900" y="372.70" width="4.608" height="12.80" fill="#256caf"/>
<rect x="189.608" y="372.70" width="4.608" height="12.80" fill="#74b2d4"/>
<rect x="193.315" y="372.70" width="4.608" height="12.80" fill="#b5d7e8"/>
<rect x="197.023" y="372.70" width="4.608" height="12.80" fill="#e9f0f4"/>
<rect x="200.730" y="372.70" width="4.608" height="12.80" fill="#e9f0f4"/>
<rect x="204.438" y="372.70" width="4.608" height="12.80" fill="#b9d9e9"/>
<rect x="208.145" y="372.70" width="4.608" height="12.80" fill="#4d99c6"/>
<rect x="211.853" y="372.70" width="4.608" height="12.80" fill="#4d99c6"/>
<rect x="215.560" y="372.70" width="4.608" height="12.80" fill="#256caf"/>
<rect x="219.268" y="372.70" width="4.608" height="12.80" fill="#4d99c6"/>
<rect x="222.975" y="372.70" width="4.608" height="12.80" fill="#aad1e5"/>
<rect x="226.683" y="372.70" width="4.608" height="12.80" fill="#aad1e5"/>
<rect x="230.390" y="372.70" width="4.608" height="12.80" fill="#aad1e5"/>
<rect x="234.098" y="372.70" width="4.608" height="12.80" fill="#8dc2dc"/>
<rect x="237.805" y="372.70" width="4.608" height="12.80" fill="#3f8dc0"/>
<rect x="241.513" y="372.70" width="4.608" height="12.80" fill="#4896c5"/>
<rect x="245.220" y="372.70" width="4.608" height="12.80" fill="#165290"/>
<rect x="248.928" y="372.70" width="4.608" height="12.80" fill="#3f8dc0"/>
<rect x="252.635" y="372.70" width="4.608" height="12.80" fill="#92c5de"/>
<rect x="256.343" y="372.70" width="4.608" height="12.80" fill="#92c5de"/>
<rect x="260.050" y="372.70" width="4.608" height="12.80" fill="#a2cde2"/>
<rect x="263.758" y="372.70" width="4.608" height="12.80" fill="#4896c5"/>
<rect x="267.465" y="372.70" width="4.608" height="12.80" fill="#2166ac"/>
<rect x="271.173" y="372.70" width="4.608" height="12.80" fill="#256caf"/>
<rect x="274.880" y="372.70" width="4.608" height="12.80" fill="#0c3e74"/>
<rect x="278.588" y="372.70" width="4.608" height="12.80" fill="#3682ba"/>
<rect x="282.295" y="372.70" width="4.608" height="12.80" fill="#61a6cd"/>
<rect x="286.002" y="372.70" width="4.608" height="12.80" fill="#88bfdb"/>
<rect x="289.710" y="372.70" width="4.608" height="12.80" fill="#88bfdb"/>
<rect x="293.418" y="372.70" width="4.608" height="12.80" fill="#61a6cd"/>
<rect x="297.125" y="372.70" width="4.608" height="12.80" fill="#1a5899"/>
<rect x="300.833" y="372.70" width="4.608" height="12.80" fill="#1a5899"/>
<rect x="304.540" y="372.70" width="4.608" height="12.80" fill="#0c3e74"/>
<rect x="308.248" y="372.70" width="4.608" height="12.80" fill="#3f8dc0"/>
<rect x="311.955" y="372.70" width="4.608" height="12.80" fill="#5ca3cb"/>
<rect x="315.663" y="372.70" width="4.608" height="12.80" fill="#5ca3cb"/>
<rect x="319.370" y="372.70" width="4.608" height="12.80" fill="#5ca3cb"/>
<rect x="323.077" y="372.70" width="4.608" height="12.80" fill="#3f8dc0"/>
<rect x="326.785" y="372.70" width="4.608" height="12.80" fill="#1e5fa3"/>
<rect x="330.493" y="372.70" width="3.708" height="12.80" fill="#2a71b2"/>
<rect x="185.90" y="372.70" width="148.30" height="12.80" fill="none" stroke="#000" stroke-opacity="0.48" stroke-width="0.95"/>
<line x1="185.90" y1="385.50" x2="185.90" y2="388.80" stroke="#5e5e5e" stroke-width="0.75"/>
<text x="185.90" y="398.40" text-anchor="middle" font-size="7.8" font-weight="normal" >0</text>
<line x1="215.56" y1="385.50" x2="215.56" y2="388.80" stroke="#5e5e5e" stroke-width="0.75"/>
<text x="215.56" y="398.40" text-anchor="middle" font-size="7.8" font-weight="normal" >24</text>
<line x1="245.22" y1="385.50" x2="245.22" y2="388.80" stroke="#5e5e5e" stroke-width="0.75"/>
<text x="245.22" y="398.40" text-anchor="middle" font-size="7.8" font-weight="normal" >48</text>
<line x1="274.88" y1="385.50" x2="274.88" y2="388.80" stroke="#5e5e5e" stroke-width="0.75"/>
<text x="274.88" y="398.40" text-anchor="middle" font-size="7.8" font-weight="normal" >72</text>
<line x1="304.54" y1="385.50" x2="304.54" y2="388.80" stroke="#5e5e5e" stroke-width="0.75"/>
<text x="304.54" y="398.40" text-anchor="middle" font-size="7.8" font-weight="normal" >96</text>
<line x1="334.20" y1="385.50" x2="334.20" y2="388.80" stroke="#5e5e5e" stroke-width="0.75"/>
<text x="334.20" y="398.40" text-anchor="middle" font-size="7.8" font-weight="normal" >120</text>
<text x="260.05" y="368.30" text-anchor="middle" font-size="7.8" font-weight="normal" >OCSMC</text>
<text x="260.05" y="412.00" text-anchor="middle" font-size="7.8" font-weight="normal" >Forecast time (hours)</text>
<rect x="356.400" y="133.50" width="4.608" height="12.80" fill="#ddebf2"/>
<rect x="360.107" y="133.50" width="4.608" height="12.80" fill="#d6e7f1"/>
<rect x="363.815" y="133.50" width="4.608" height="12.80" fill="#d1e5f0"/>
<rect x="367.522" y="133.50" width="4.608" height="12.80" fill="#c9e1ee"/>
<rect x="371.230" y="133.50" width="4.608" height="12.80" fill="#c5dfed"/>
<rect x="374.938" y="133.50" width="4.608" height="12.80" fill="#c1ddec"/>
<rect x="378.645" y="133.50" width="4.608" height="12.80" fill="#bddbea"/>
<rect x="382.352" y="133.50" width="4.608" height="12.80" fill="#bddbea"/>
<rect x="386.060" y="133.50" width="4.608" height="12.80" fill="#bddbea"/>
<rect x="389.767" y="133.50" width="4.608" height="12.80" fill="#c1ddec"/>
<rect x="393.475" y="133.50" width="4.608" height="12.80" fill="#c5dfed"/>
<rect x="397.183" y="133.50" width="4.608" height="12.80" fill="#c9e1ee"/>
<rect x="400.890" y="133.50" width="4.608" height="12.80" fill="#cde3ef"/>
<rect x="404.597" y="133.50" width="4.608" height="12.80" fill="#d1e5f0"/>
<rect x="408.305" y="133.50" width="4.608" height="12.80" fill="#d3e6f0"/>
<rect x="412.012" y="133.50" width="4.608" height="12.80" fill="#d6e7f1"/>
<rect x="415.720" y="133.50" width="4.608" height="12.80" fill="#d6e7f1"/>
<rect x="419.428" y="133.50" width="4.608" height="12.80" fill="#d8e8f1"/>
<rect x="423.135" y="133.50" width="4.608" height="12.80" fill="#daeaf2"/>
<rect x="426.842" y="133.50" width="4.608" height="12.80" fill="#daeaf2"/>
<rect x="430.550" y="133.50" width="4.608" height="12.80" fill="#ddebf2"/>
<rect x="434.257" y="133.50" width="4.608" height="12.80" fill="#dfecf3"/>
<rect x="437.965" y="133.50" width="4.608" height="12.80" fill="#e2edf3"/>
<rect x="441.673" y="133.50" width="4.608" height="12.80" fill="#e4eef4"/>
<rect x="445.380" y="133.50" width="4.608" height="12.80" fill="#e6eff4"/>
<rect x="449.087" y="133.50" width="4.608" height="12.80" fill="#e9f0f4"/>
<rect x="452.795" y="133.50" width="4.608" height="12.80" fill="#ebf1f5"/>
<rect x="456.502" y="133.50" width="4.608" height="12.80" fill="#eef2f5"/>
<rect x="460.210" y="133.50" width="4.608" height="12.80" fill="#f0f4f6"/>
<rect x="463.918" y="133.50" width="4.608" height="12.80" fill="#f2f5f6"/>
<rect x="467.625" y="133.50" width="4.608" height="12.80" fill="#f5f6f7"/>
<rect x="471.332" y="133.50" width="4.608" height="12.80" fill="#f7f7f7"/>
<rect x="475.040" y="133.50" width="4.608" height="12.80" fill="#f7f5f4"/>
<rect x="478.748" y="133.50" width="4.608" height="12.80" fill="#f8f4f1"/>
<rect x="482.455" y="133.50" width="4.608" height="12.80" fill="#f8f2ee"/>
<rect x="486.163" y="133.50" width="4.608" height="12.80" fill="#f8f0eb"/>
<rect x="489.870" y="133.50" width="4.608" height="12.80" fill="#f9eee8"/>
<rect x="493.577" y="133.50" width="4.608" height="12.80" fill="#f9ece5"/>
<rect x="497.285" y="133.50" width="4.608" height="12.80" fill="#f9ece5"/>
<rect x="500.993" y="133.50" width="3.708" height="12.80" fill="#f9ece5"/>
<rect x="356.40" y="133.50" width="148.30" height="12.80" fill="none" stroke="#000" stroke-opacity="0.48" stroke-width="0.95"/>
<line x1="356.40" y1="146.30" x2="356.40" y2="149.60" stroke="#5e5e5e" stroke-width="0.75"/>
<text x="356.40" y="159.20" text-anchor="middle" font-size="7.8" font-weight="normal" >0</text>
<line x1="386.06" y1="146.30" x2="386.06" y2="149.60" stroke="#5e5e5e" stroke-width="0.75"/>
<text x="386.06" y="159.20" text-anchor="middle" font-size="7.8" font-weight="normal" >24</text>
<line x1="415.72" y1="146.30" x2="415.72" y2="149.60" stroke="#5e5e5e" stroke-width="0.75"/>
<text x="415.72" y="159.20" text-anchor="middle" font-size="7.8" font-weight="normal" >48</text>
<line x1="445.38" y1="146.30" x2="445.38" y2="149.60" stroke="#5e5e5e" stroke-width="0.75"/>
<text x="445.38" y="159.20" text-anchor="middle" font-size="7.8" font-weight="normal" >72</text>
<line x1="475.04" y1="146.30" x2="475.04" y2="149.60" stroke="#5e5e5e" stroke-width="0.75"/>
<text x="475.04" y="159.20" text-anchor="middle" font-size="7.8" font-weight="normal" >96</text>
<line x1="504.70" y1="146.30" x2="504.70" y2="149.60" stroke="#5e5e5e" stroke-width="0.75"/>
<text x="504.70" y="159.20" text-anchor="middle" font-size="7.8" font-weight="normal" >120</text>
<text x="430.55" y="129.10" text-anchor="middle" font-size="7.8" font-weight="normal" >SSAOD</text>
<text x="430.55" y="172.80" text-anchor="middle" font-size="7.8" font-weight="normal" >Forecast time (hours)</text>
<rect x="356.400" y="372.70" width="4.608" height="12.80" fill="#a2cde2"/>
<rect x="360.107" y="372.70" width="4.608" height="12.80" fill="#92c5de"/>
<rect x="363.815" y="372.70" width="4.608" height="12.80" fill="#88bfdb"/>
<rect x="367.522" y="372.70" width="4.608" height="12.80" fill="#83bcd9"/>
<rect x="371.230" y="372.70" width="4.608" height="12.80" fill="#79b5d6"/>
<rect x="374.938" y="372.70" width="4.608" height="12.80" fill="#66a9cf"/>
<rect x="378.645" y="372.70" width="4.608" height="12.80" fill="#61a6cd"/>
<rect x="382.352" y="372.70" width="4.608" height="12.80" fill="#66a9cf"/>
<rect x="386.060" y="372.70" width="4.608" height="12.80" fill="#74b2d4"/>
<rect x="389.767" y="372.70" width="4.608" height="12.80" fill="#83bcd9"/>
<rect x="393.475" y="372.70" width="4.608" height="12.80" fill="#8dc2dc"/>
<rect x="397.183" y="372.70" width="4.608" height="12.80" fill="#96c7df"/>
<rect x="400.890" y="372.70" width="4.608" height="12.80" fill="#9ac9e0"/>
<rect x="404.597" y="372.70" width="4.608" height="12.80" fill="#9ecbe1"/>
<rect x="408.305" y="372.70" width="4.608" height="12.80" fill="#a2cde2"/>
<rect x="412.012" y="372.70" width="4.608" height="12.80" fill="#a6cfe4"/>
<rect x="415.720" y="372.70" width="4.608" height="12.80" fill="#aad1e5"/>
<rect x="419.428" y="372.70" width="4.608" height="12.80" fill="#b5d7e8"/>
<rect x="423.135" y="372.70" width="4.608" height="12.80" fill="#b9d9e9"/>
<rect x="426.842" y="372.70" width="4.608" height="12.80" fill="#bddbea"/>
<rect x="430.550" y="372.70" width="4.608" height="12.80" fill="#c1ddec"/>
<rect x="434.257" y="372.70" width="4.608" height="12.80" fill="#c5dfed"/>
<rect x="437.965" y="372.70" width="4.608" height="12.80" fill="#c9e1ee"/>
<rect x="441.673" y="372.70" width="4.608" height="12.80" fill="#d6e7f1"/>
<rect x="445.380" y="372.70" width="4.608" height="12.80" fill="#d8e8f1"/>
<rect x="449.087" y="372.70" width="4.608" height="12.80" fill="#daeaf2"/>
<rect x="452.795" y="372.70" width="4.608" height="12.80" fill="#ddebf2"/>
<rect x="456.502" y="372.70" width="4.608" height="12.80" fill="#dfecf3"/>
<rect x="460.210" y="372.70" width="4.608" height="12.80" fill="#e2edf3"/>
<rect x="463.918" y="372.70" width="4.608" height="12.80" fill="#e4eef4"/>
<rect x="467.625" y="372.70" width="4.608" height="12.80" fill="#e9f0f4"/>
<rect x="471.332" y="372.70" width="4.608" height="12.80" fill="#ebf1f5"/>
<rect x="475.040" y="372.70" width="4.608" height="12.80" fill="#eef2f5"/>
<rect x="478.748" y="372.70" width="4.608" height="12.80" fill="#eef2f5"/>
<rect x="482.455" y="372.70" width="4.608" height="12.80" fill="#f0f4f6"/>
<rect x="486.163" y="372.70" width="4.608" height="12.80" fill="#f2f5f6"/>
<rect x="489.870" y="372.70" width="4.608" height="12.80" fill="#f8f4f1"/>
<rect x="493.577" y="372.70" width="4.608" height="12.80" fill="#f8f0eb"/>
<rect x="497.285" y="372.70" width="4.608" height="12.80" fill="#f9eee8"/>
<rect x="500.993" y="372.70" width="3.708" height="12.80" fill="#f9ece5"/>
<rect x="356.40" y="372.70" width="148.30" height="12.80" fill="none" stroke="#000" stroke-opacity="0.48" stroke-width="0.95"/>
<line x1="356.40" y1="385.50" x2="356.40" y2="388.80" stroke="#5e5e5e" stroke-width="0.75"/>
<text x="356.40" y="398.40" text-anchor="middle" font-size="7.8" font-weight="normal" >0</text>
<line x1="386.06" y1="385.50" x2="386.06" y2="388.80" stroke="#5e5e5e" stroke-width="0.75"/>
<text x="386.06" y="398.40" text-anchor="middle" font-size="7.8" font-weight="normal" >24</text>
<line x1="415.72" y1="385.50" x2="415.72" y2="388.80" stroke="#5e5e5e" stroke-width="0.75"/>
<text x="415.72" y="398.40" text-anchor="middle" font-size="7.8" font-weight="normal" >48</text>
<line x1="445.38" y1="385.50" x2="445.38" y2="388.80" stroke="#5e5e5e" stroke-width="0.75"/>
<text x="445.38" y="398.40" text-anchor="middle" font-size="7.8" font-weight="normal" >72</text>
<line x1="475.04" y1="385.50" x2="475.04" y2="388.80" stroke="#5e5e5e" stroke-width="0.75"/>
<text x="475.04" y="398.40" text-anchor="middle" font-size="7.8" font-weight="normal" >96</text>
<line x1="504.70" y1="385.50" x2="504.70" y2="388.80" stroke="#5e5e5e" stroke-width="0.75"/>
<text x="504.70" y="398.40" text-anchor="middle" font-size="7.8" font-weight="normal" >120</text>
<text x="430.55" y="368.30" text-anchor="middle" font-size="7.8" font-weight="normal" >SSAOD</text>
<text x="430.55" y="412.00" text-anchor="middle" font-size="7.8" font-weight="normal" >Forecast time (hours)</text>
<rect x="526.900" y="133.50" width="4.608" height="12.80" fill="#e2edf3"/>
<rect x="530.607" y="133.50" width="4.608" height="12.80" fill="#e2edf3"/>
<rect x="534.315" y="133.50" width="4.608" height="12.80" fill="#e2edf3"/>
<rect x="538.023" y="133.50" width="4.608" height="12.80" fill="#e2edf3"/>
<rect x="541.730" y="133.50" width="4.608" height="12.80" fill="#e2edf3"/>
<rect x="545.438" y="133.50" width="4.608" height="12.80" fill="#dfecf3"/>
<rect x="549.145" y="133.50" width="4.608" height="12.80" fill="#dfecf3"/>
<rect x="552.852" y="133.50" width="4.608" height="12.80" fill="#dfecf3"/>
<rect x="556.560" y="133.50" width="4.608" height="12.80" fill="#dfecf3"/>
<rect x="560.267" y="133.50" width="4.608" height="12.80" fill="#e2edf3"/>
<rect x="563.975" y="133.50" width="4.608" height="12.80" fill="#e4eef4"/>
<rect x="567.683" y="133.50" width="4.608" height="12.80" fill="#e6eff4"/>
<rect x="571.390" y="133.50" width="4.608" height="12.80" fill="#e9f0f4"/>
<rect x="575.097" y="133.50" width="4.608" height="12.80" fill="#ebf1f5"/>
<rect x="578.805" y="133.50" width="4.608" height="12.80" fill="#eef2f5"/>
<rect x="582.512" y="133.50" width="4.608" height="12.80" fill="#f0f4f6"/>
<rect x="586.220" y="133.50" width="4.608" height="12.80" fill="#f5f6f7"/>
<rect x="589.928" y="133.50" width="4.608" height="12.80" fill="#f7f7f7"/>
<rect x="593.635" y="133.50" width="4.608" height="12.80" fill="#f7f5f4"/>
<rect x="597.342" y="133.50" width="4.608" height="12.80" fill="#f8f4f1"/>
<rect x="601.050" y="133.50" width="4.608" height="12.80" fill="#f8f2ee"/>
<rect x="604.757" y="133.50" width="4.608" height="12.80" fill="#f8f0eb"/>
<rect x="608.465" y="133.50" width="4.608" height="12.80" fill="#f8f0eb"/>
<rect x="612.173" y="133.50" width="4.608" height="12.80" fill="#f9eee8"/>
<rect x="615.880" y="133.50" width="4.608" height="12.80" fill="#f9eee8"/>
<rect x="619.587" y="133.50" width="4.608" height="12.80" fill="#f9ece5"/>
<rect x="623.295" y="133.50" width="4.608" height="12.80" fill="#f9ece5"/>
<rect x="627.002" y="133.50" width="4.608" height="12.80" fill="#f9ece5"/>
<rect x="630.710" y="133.50" width="4.608" height="12.80" fill="#faebe2"/>
<rect x="634.418" y="133.50" width="4.608" height="12.80" fill="#faebe2"/>
<rect x="638.125" y="133.50" width="4.608" height="12.80" fill="#faebe2"/>
<rect x="641.832" y="133.50" width="4.608" height="12.80" fill="#fae9df"/>
<rect x="645.540" y="133.50" width="4.608" height="12.80" fill="#fae9df"/>
<rect x="649.247" y="133.50" width="4.608" height="12.80" fill="#fae9df"/>
<rect x="652.955" y="133.50" width="4.608" height="12.80" fill="#fae7dc"/>
<rect x="656.663" y="133.50" width="4.608" height="12.80" fill="#fbe6d9"/>
<rect x="660.370" y="133.50" width="4.608" height="12.80" fill="#fbe4d6"/>
<rect x="664.077" y="133.50" width="4.608" height="12.80" fill="#fce0d0"/>
<rect x="667.785" y="133.50" width="4.608" height="12.80" fill="#fce0d0"/>
<rect x="671.493" y="133.50" width="3.708" height="12.80" fill="#fbe4d6"/>
<rect x="526.90" y="133.50" width="148.30" height="12.80" fill="none" stroke="#000" stroke-opacity="0.48" stroke-width="0.95"/>
<line x1="526.90" y1="146.30" x2="526.90" y2="149.60" stroke="#5e5e5e" stroke-width="0.75"/>
<text x="526.90" y="159.20" text-anchor="middle" font-size="7.8" font-weight="normal" >0</text>
<line x1="556.56" y1="146.30" x2="556.56" y2="149.60" stroke="#5e5e5e" stroke-width="0.75"/>
<text x="556.56" y="159.20" text-anchor="middle" font-size="7.8" font-weight="normal" >24</text>
<line x1="586.22" y1="146.30" x2="586.22" y2="149.60" stroke="#5e5e5e" stroke-width="0.75"/>
<text x="586.22" y="159.20" text-anchor="middle" font-size="7.8" font-weight="normal" >48</text>
<line x1="615.88" y1="146.30" x2="615.88" y2="149.60" stroke="#5e5e5e" stroke-width="0.75"/>
<text x="615.88" y="159.20" text-anchor="middle" font-size="7.8" font-weight="normal" >72</text>
<line x1="645.54" y1="146.30" x2="645.54" y2="149.60" stroke="#5e5e5e" stroke-width="0.75"/>
<text x="645.54" y="159.20" text-anchor="middle" font-size="7.8" font-weight="normal" >96</text>
<line x1="675.20" y1="146.30" x2="675.20" y2="149.60" stroke="#5e5e5e" stroke-width="0.75"/>
<text x="675.20" y="159.20" text-anchor="middle" font-size="7.8" font-weight="normal" >120</text>
<text x="601.05" y="129.10" text-anchor="middle" font-size="7.8" font-weight="normal" >SSSMC</text>
<text x="601.05" y="172.80" text-anchor="middle" font-size="7.8" font-weight="normal" >Forecast time (hours)</text>
<rect x="526.900" y="372.70" width="4.608" height="12.80" fill="#85bcd9"/>
<rect x="530.607" y="372.70" width="4.608" height="12.80" fill="#58a0ca"/>
<rect x="534.315" y="372.70" width="4.608" height="12.80" fill="#4393c3"/>
<rect x="538.023" y="372.70" width="4.608" height="12.80" fill="#3783bb"/>
<rect x="541.730" y="372.70" width="4.608" height="12.80" fill="#327cb8"/>
<rect x="545.438" y="372.70" width="4.608" height="12.80" fill="#3079b6"/>
<rect x="549.145" y="372.70" width="4.608" height="12.80" fill="#3079b6"/>
<rect x="552.852" y="372.70" width="4.608" height="12.80" fill="#327cb8"/>
<rect x="556.560" y="372.70" width="4.608" height="12.80" fill="#3986bc"/>
<rect x="560.267" y="372.70" width="4.608" height="12.80" fill="#408fc1"/>
<rect x="563.975" y="372.70" width="4.608" height="12.80" fill="#4393c3"/>
<rect x="567.683" y="372.70" width="4.608" height="12.80" fill="#4896c5"/>
<rect x="571.390" y="372.70" width="4.608" height="12.80" fill="#539dc8"/>
<rect x="575.097" y="372.70" width="4.608" height="12.80" fill="#63a8ce"/>
<rect x="578.805" y="372.70" width="4.608" height="12.80" fill="#6eaed2"/>
<rect x="582.512" y="372.70" width="4.608" height="12.80" fill="#74b2d4"/>
<rect x="586.220" y="372.70" width="4.608" height="12.80" fill="#7fb9d8"/>
<rect x="589.928" y="372.70" width="4.608" height="12.80" fill="#90c3dd"/>
<rect x="593.635" y="372.70" width="4.608" height="12.80" fill="#99c9e0"/>
<rect x="597.342" y="372.70" width="4.608" height="12.80" fill="#9dcbe1"/>
<rect x="601.050" y="372.70" width="4.608" height="12.80" fill="#a6cfe4"/>
<rect x="604.757" y="372.70" width="4.608" height="12.80" fill="#b3d6e8"/>
<rect x="608.465" y="372.70" width="4.608" height="12.80" fill="#b8d8e9"/>
<rect x="612.173" y="372.70" width="4.608" height="12.80" fill="#bcdaea"/>
<rect x="615.880" y="372.70" width="4.608" height="12.80" fill="#c1ddeb"/>
<rect x="619.587" y="372.70" width="4.608" height="12.80" fill="#c9e1ee"/>
<rect x="623.295" y="372.70" width="4.608" height="12.80" fill="#d4e7f1"/>
<rect x="627.002" y="372.70" width="4.608" height="12.80" fill="#d7e8f1"/>
<rect x="630.710" y="372.70" width="4.608" height="12.80" fill="#dae9f2"/>
<rect x="634.418" y="372.70" width="4.608" height="12.80" fill="#dceaf2"/>
<rect x="638.125" y="372.70" width="4.608" height="12.80" fill="#dfecf3"/>
<rect x="641.832" y="372.70" width="4.608" height="12.80" fill="#e4eef4"/>
<rect x="645.540" y="372.70" width="4.608" height="12.80" fill="#e7eff4"/>
<rect x="649.247" y="372.70" width="4.608" height="12.80" fill="#eaf1f5"/>
<rect x="652.955" y="372.70" width="4.608" height="12.80" fill="#ecf2f5"/>
<rect x="656.663" y="372.70" width="4.608" height="12.80" fill="#eff3f6"/>
<rect x="660.370" y="372.70" width="4.608" height="12.80" fill="#f7f7f7"/>
<rect x="664.077" y="372.70" width="4.608" height="12.80" fill="#f7f5f4"/>
<rect x="667.785" y="372.70" width="4.608" height="12.80" fill="#f8f4f1"/>
<rect x="671.493" y="372.70" width="3.708" height="12.80" fill="#f8f4f1"/>
<rect x="526.90" y="372.70" width="148.30" height="12.80" fill="none" stroke="#000" stroke-opacity="0.48" stroke-width="0.95"/>
<line x1="526.90" y1="385.50" x2="526.90" y2="388.80" stroke="#5e5e5e" stroke-width="0.75"/>
<text x="526.90" y="398.40" text-anchor="middle" font-size="7.8" font-weight="normal" >0</text>
<line x1="556.56" y1="385.50" x2="556.56" y2="388.80" stroke="#5e5e5e" stroke-width="0.75"/>
<text x="556.56" y="398.40" text-anchor="middle" font-size="7.8" font-weight="normal" >24</text>
<line x1="586.22" y1="385.50" x2="586.22" y2="388.80" stroke="#5e5e5e" stroke-width="0.75"/>
<text x="586.22" y="398.40" text-anchor="middle" font-size="7.8" font-weight="normal" >48</text>
<line x1="615.88" y1="385.50" x2="615.88" y2="388.80" stroke="#5e5e5e" stroke-width="0.75"/>
<text x="615.88" y="398.40" text-anchor="middle" font-size="7.8" font-weight="normal" >72</text>
<line x1="645.54" y1="385.50" x2="645.54" y2="388.80" stroke="#5e5e5e" stroke-width="0.75"/>
<text x="645.54" y="398.40" text-anchor="middle" font-size="7.8" font-weight="normal" >96</text>
<line x1="675.20" y1="385.50" x2="675.20" y2="388.80" stroke="#5e5e5e" stroke-width="0.75"/>
<text x="675.20" y="398.40" text-anchor="middle" font-size="7.8" font-weight="normal" >120</text>
<text x="601.05" y="368.30" text-anchor="middle" font-size="7.8" font-weight="normal" >SSSMC</text>
<text x="601.05" y="412.00" text-anchor="middle" font-size="7.8" font-weight="normal" >Forecast time (hours)</text>
<defs><linearGradient id="g186" x1="0" x2="1" y1="0" y2="0"><stop offset="0.0000" stop-color="#67001f"/><stop offset="0.0250" stop-color="#7a0622"/><stop offset="0.0500" stop-color="#8c0c25"/><stop offset="0.0750" stop-color="#9f1228"/><stop offset="0.1000" stop-color="#b2182b"/><stop offset="0.1250" stop-color="#bb2a34"/><stop offset="0.1500" stop-color="#c43c3c"/><stop offset="0.1750" stop-color="#cd4e44"/><stop offset="0.2000" stop-color="#d6604d"/><stop offset="0.2250" stop-color="#de715a"/><stop offset="0.2500" stop-color="#e58268"/><stop offset="0.2750" stop-color="#ec9475"/><stop offset="0.3000" stop-color="#f4a582"/><stop offset="0.3250" stop-color="#f6b293"/><stop offset="0.3500" stop-color="#f8c0a4"/><stop offset="0.3750" stop-color="#fbceb6"/><stop offset="0.4000" stop-color="#fddbc7"/><stop offset="0.4250" stop-color="#fce2d3"/><stop offset="0.4500" stop-color="#fae9df"/><stop offset="0.4750" stop-color="#f8f0eb"/><stop offset="0.5000" stop-color="#f7f7f7"/><stop offset="0.5250" stop-color="#eef2f5"/><stop offset="0.5500" stop-color="#e4eef4"/><stop offset="0.5750" stop-color="#daeaf2"/><stop offset="0.6000" stop-color="#d1e5f0"/><stop offset="0.6250" stop-color="#c1ddec"/><stop offset="0.6500" stop-color="#b2d5e7"/><stop offset="0.6750" stop-color="#a2cde2"/><stop offset="0.7000" stop-color="#92c5de"/><stop offset="0.7250" stop-color="#7eb8d7"/><stop offset="0.7500" stop-color="#6aacd0"/><stop offset="0.7750" stop-color="#57a0ca"/><stop offset="0.8000" stop-color="#4393c3"/><stop offset="0.8250" stop-color="#3a88bd"/><stop offset="0.8500" stop-color="#327cb8"/><stop offset="0.8750" stop-color="#2a71b2"/><stop offset="0.9000" stop-color="#2166ac"/><stop offset="0.9250" stop-color="#1a5899"/><stop offset="0.9500" stop-color="#134b86"/><stop offset="0.9750" stop-color="#0c3e74"/><stop offset="1.0000" stop-color="#053061"/></linearGradient></defs>
<rect x="150.90" y="186.10" width="386.10" height="12.70" fill="url(#g186)"/>
<polygon points="151.20,186.10 131.20,192.45 151.20,198.80" fill="#67001f"/>
<polygon points="536.70,186.10 556.50,192.45 536.70,198.80" fill="#053061"/>
<line x1="150.90" y1="198.80" x2="150.90" y2="202.30" stroke="#9a9a9a" stroke-width="0.8"/>
<text x="150.90" y="212.70" text-anchor="middle" font-size="7.8" font-weight="normal" >−40</text>
<line x1="199.16" y1="198.80" x2="199.16" y2="202.30" stroke="#9a9a9a" stroke-width="0.8"/>
<text x="199.16" y="212.70" text-anchor="middle" font-size="7.8" font-weight="normal" >−30</text>
<line x1="247.43" y1="198.80" x2="247.43" y2="202.30" stroke="#9a9a9a" stroke-width="0.8"/>
<text x="247.43" y="212.70" text-anchor="middle" font-size="7.8" font-weight="normal" >−20</text>
<line x1="295.69" y1="198.80" x2="295.69" y2="202.30" stroke="#9a9a9a" stroke-width="0.8"/>
<text x="295.69" y="212.70" text-anchor="middle" font-size="7.8" font-weight="normal" >−10</text>
<line x1="343.95" y1="198.80" x2="343.95" y2="202.30" stroke="#9a9a9a" stroke-width="0.8"/>
<text x="343.95" y="212.70" text-anchor="middle" font-size="7.8" font-weight="normal" >0</text>
<line x1="392.21" y1="198.80" x2="392.21" y2="202.30" stroke="#9a9a9a" stroke-width="0.8"/>
<text x="392.21" y="212.70" text-anchor="middle" font-size="7.8" font-weight="normal" >10</text>
<line x1="440.48" y1="198.80" x2="440.48" y2="202.30" stroke="#9a9a9a" stroke-width="0.8"/>
<text x="440.48" y="212.70" text-anchor="middle" font-size="7.8" font-weight="normal" >20</text>
<line x1="488.74" y1="198.80" x2="488.74" y2="202.30" stroke="#9a9a9a" stroke-width="0.8"/>
<text x="488.74" y="212.70" text-anchor="middle" font-size="7.8" font-weight="normal" >30</text>
<line x1="537.00" y1="198.80" x2="537.00" y2="202.30" stroke="#9a9a9a" stroke-width="0.8"/>
<text x="537.00" y="212.70" text-anchor="middle" font-size="7.8" font-weight="normal" >40</text>
<text x="245.40" y="225.80" text-anchor="start" font-size="7.8" font-weight="normal" >Worse</text>
<path d="M277.53,224.20H270.43M272.03,222.30L270.43,224.20L272.03,226.10" fill="none" stroke="#231f20" stroke-width="0.62" stroke-linejoin="miter"/>
<text x="279.93" y="225.80" text-anchor="start" font-size="7.8" font-weight="normal" >Difference in <tspan font-style="italic">R</tspan> versus GEOS-FP (%)</text>
<path d="M410.58,224.20H417.68M416.08,222.30L417.68,224.20L416.08,226.10" fill="none" stroke="#231f20" stroke-width="0.62" stroke-linejoin="miter"/>
<text x="420.08" y="225.80" text-anchor="start" font-size="7.8" font-weight="normal" >Better</text>
<defs><linearGradient id="g421" x1="0" x2="1" y1="0" y2="0"><stop offset="0.0000" stop-color="#053061"/><stop offset="0.0250" stop-color="#0c3e74"/><stop offset="0.0500" stop-color="#134b86"/><stop offset="0.0750" stop-color="#1a5899"/><stop offset="0.1000" stop-color="#2166ac"/><stop offset="0.1250" stop-color="#2a71b2"/><stop offset="0.1500" stop-color="#327cb8"/><stop offset="0.1750" stop-color="#3a88bd"/><stop offset="0.2000" stop-color="#4393c3"/><stop offset="0.2250" stop-color="#57a0ca"/><stop offset="0.2500" stop-color="#6aacd0"/><stop offset="0.2750" stop-color="#7eb8d7"/><stop offset="0.3000" stop-color="#92c5de"/><stop offset="0.3250" stop-color="#a2cde2"/><stop offset="0.3500" stop-color="#b2d5e7"/><stop offset="0.3750" stop-color="#c1ddec"/><stop offset="0.4000" stop-color="#d1e5f0"/><stop offset="0.4250" stop-color="#daeaf2"/><stop offset="0.4500" stop-color="#e4eef4"/><stop offset="0.4750" stop-color="#eef2f5"/><stop offset="0.5000" stop-color="#f7f7f7"/><stop offset="0.5250" stop-color="#f8f0eb"/><stop offset="0.5500" stop-color="#fae9df"/><stop offset="0.5750" stop-color="#fce2d3"/><stop offset="0.6000" stop-color="#fddbc7"/><stop offset="0.6250" stop-color="#fbceb6"/><stop offset="0.6500" stop-color="#f8c0a4"/><stop offset="0.6750" stop-color="#f6b293"/><stop offset="0.7000" stop-color="#f4a582"/><stop offset="0.7250" stop-color="#ec9475"/><stop offset="0.7500" stop-color="#e58268"/><stop offset="0.7750" stop-color="#de715a"/><stop offset="0.8000" stop-color="#d6604d"/><stop offset="0.8250" stop-color="#cd4e45"/><stop offset="0.8500" stop-color="#c43c3c"/><stop offset="0.8750" stop-color="#bb2a34"/><stop offset="0.9000" stop-color="#b2182b"/><stop offset="0.9250" stop-color="#9f1228"/><stop offset="0.9500" stop-color="#8d0c25"/><stop offset="0.9750" stop-color="#7a0622"/><stop offset="1.0000" stop-color="#67001f"/></linearGradient></defs>
<rect x="150.90" y="421.60" width="386.10" height="13.10" fill="url(#g421)"/>
<polygon points="151.20,421.60 131.20,428.15 151.20,434.70" fill="#053061"/>
<polygon points="536.70,421.60 556.50,428.15 536.70,434.70" fill="#67001f"/>
<line x1="150.90" y1="434.70" x2="150.90" y2="438.20" stroke="#9a9a9a" stroke-width="0.8"/>
<text x="150.90" y="447.90" text-anchor="middle" font-size="7.8" font-weight="normal" >−40</text>
<line x1="199.16" y1="434.70" x2="199.16" y2="438.20" stroke="#9a9a9a" stroke-width="0.8"/>
<text x="199.16" y="447.90" text-anchor="middle" font-size="7.8" font-weight="normal" >−30</text>
<line x1="247.43" y1="434.70" x2="247.43" y2="438.20" stroke="#9a9a9a" stroke-width="0.8"/>
<text x="247.43" y="447.90" text-anchor="middle" font-size="7.8" font-weight="normal" >−20</text>
<line x1="295.69" y1="434.70" x2="295.69" y2="438.20" stroke="#9a9a9a" stroke-width="0.8"/>
<text x="295.69" y="447.90" text-anchor="middle" font-size="7.8" font-weight="normal" >−10</text>
<line x1="343.95" y1="434.70" x2="343.95" y2="438.20" stroke="#9a9a9a" stroke-width="0.8"/>
<text x="343.95" y="447.90" text-anchor="middle" font-size="7.8" font-weight="normal" >0</text>
<line x1="392.21" y1="434.70" x2="392.21" y2="438.20" stroke="#9a9a9a" stroke-width="0.8"/>
<text x="392.21" y="447.90" text-anchor="middle" font-size="7.8" font-weight="normal" >10</text>
<line x1="440.48" y1="434.70" x2="440.48" y2="438.20" stroke="#9a9a9a" stroke-width="0.8"/>
<text x="440.48" y="447.90" text-anchor="middle" font-size="7.8" font-weight="normal" >20</text>
<line x1="488.74" y1="434.70" x2="488.74" y2="438.20" stroke="#9a9a9a" stroke-width="0.8"/>
<text x="488.74" y="447.90" text-anchor="middle" font-size="7.8" font-weight="normal" >30</text>
<line x1="537.00" y1="434.70" x2="537.00" y2="438.20" stroke="#9a9a9a" stroke-width="0.8"/>
<text x="537.00" y="447.90" text-anchor="middle" font-size="7.8" font-weight="normal" >40</text>
<text x="237.80" y="461.30" text-anchor="start" font-size="7.8" font-weight="normal" >Better</text>
<path d="M268.34,459.40H261.25M262.85,457.50L261.25,459.40L262.85,461.30" fill="none" stroke="#231f20" stroke-width="0.62" stroke-linejoin="miter"/>
<text x="270.74" y="461.30" text-anchor="start" font-size="7.8" font-weight="normal" >Difference in RMSE versus GEOS-FP (%)</text>
<path d="M418.30,459.40H425.40M423.80,457.50L425.40,459.40L423.80,461.30" fill="none" stroke="#231f20" stroke-width="0.62" stroke-linejoin="miter"/>
<text x="427.80" y="461.30" text-anchor="start" font-size="7.8" font-weight="normal" >Worse</text>
<text x="85.00" y="487.60" text-anchor="middle" font-size="7.8" font-weight="normal" >AOD</text>
<line x1="34.00" y1="594.90" x2="132.70" y2="594.90" stroke="#cccccc" stroke-width="1.4"/>
<line x1="37.30" y1="492.00" x2="37.30" y2="595.30" stroke="#6e6e6e" stroke-width="0.9"/>
<line x1="34.00" y1="492.40" x2="37.30" y2="492.40" stroke="#6e6e6e" stroke-width="0.9"/>
<text x="30.10" y="495.20" text-anchor="end" font-size="7.8" font-weight="normal" >0.25</text>
<line x1="34.00" y1="543.65" x2="37.30" y2="543.65" stroke="#6e6e6e" stroke-width="0.9"/>
<text x="30.10" y="546.45" text-anchor="end" font-size="7.8" font-weight="normal" >0.15</text>
<line x1="34.00" y1="594.90" x2="37.30" y2="594.90" stroke="#6e6e6e" stroke-width="0.9"/>
<text x="30.10" y="597.70" text-anchor="end" font-size="7.8" font-weight="normal" >0.05</text>
<line x1="37.30" y1="594.90" x2="37.30" y2="598.30" stroke="#6e6e6e" stroke-width="0.9"/>
<text x="37.30" y="607.50" text-anchor="middle" font-size="7.8" font-weight="normal" >0</text>
<line x1="56.00" y1="594.90" x2="56.00" y2="598.30" stroke="#6e6e6e" stroke-width="0.9"/>
<text x="56.00" y="607.50" text-anchor="middle" font-size="7.8" font-weight="normal" >24</text>
<line x1="74.70" y1="594.90" x2="74.70" y2="598.30" stroke="#6e6e6e" stroke-width="0.9"/>
<text x="74.70" y="607.50" text-anchor="middle" font-size="7.8" font-weight="normal" >48</text>
<line x1="93.40" y1="594.90" x2="93.40" y2="598.30" stroke="#6e6e6e" stroke-width="0.9"/>
<text x="93.40" y="607.50" text-anchor="middle" font-size="7.8" font-weight="normal" >72</text>
<line x1="112.10" y1="594.90" x2="112.10" y2="598.30" stroke="#6e6e6e" stroke-width="0.9"/>
<text x="112.10" y="607.50" text-anchor="middle" font-size="7.8" font-weight="normal" >96</text>
<line x1="130.80" y1="594.90" x2="130.80" y2="598.30" stroke="#6e6e6e" stroke-width="0.9"/>
<text x="130.80" y="607.50" text-anchor="middle" font-size="7.8" font-weight="normal" >120</text>
<text x="85.00" y="621.40" text-anchor="middle" font-size="7.8" font-weight="normal" >Forecast time (hours)</text>
<text transform="translate(7.40,543.6) rotate(-90)" text-anchor="middle" font-size="7.8">RMSE</text>
<polyline points="39.64,578.10 41.97,562.10 44.31,555.60 46.65,570.40 48.99,570.40 51.33,560.20 53.66,540.00 56.00,560.20 58.34,559.80 60.67,537.50 63.01,542.10 65.35,568.10 67.69,563.00 70.03,554.70 72.36,536.60 74.70,548.00 77.04,542.60 79.38,529.60 81.71,538.90 84.05,554.20 86.39,560.00 88.72,550.00 91.06,524.00 93.40,535.70 95.74,542.00 98.08,528.00 100.41,535.00 102.75,556.70 105.09,541.20 107.43,545.00 109.76,515.00 112.10,532.60 114.44,518.70 116.78,523.60 119.11,530.80 121.45,555.40 123.79,524.30 126.13,539.00 128.46,506.70 130.80,512.30" fill="none" stroke="#a6cee3" stroke-width="1.45" stroke-linejoin="round"/>
<circle cx="39.64" cy="578.10" r="2.2" fill="#a6cee3"/>
<circle cx="41.97" cy="562.10" r="2.2" fill="#a6cee3"/>
<circle cx="44.31" cy="555.60" r="2.2" fill="#a6cee3"/>
<circle cx="46.65" cy="570.40" r="2.2" fill="#a6cee3"/>
<circle cx="48.99" cy="570.40" r="2.2" fill="#a6cee3"/>
<circle cx="51.33" cy="560.20" r="2.2" fill="#a6cee3"/>
<circle cx="53.66" cy="540.00" r="2.2" fill="#a6cee3"/>
<circle cx="56.00" cy="560.20" r="2.2" fill="#a6cee3"/>
<circle cx="58.34" cy="559.80" r="2.2" fill="#a6cee3"/>
<circle cx="60.67" cy="537.50" r="2.2" fill="#a6cee3"/>
<circle cx="63.01" cy="542.10" r="2.2" fill="#a6cee3"/>
<circle cx="65.35" cy="568.10" r="2.2" fill="#a6cee3"/>
<circle cx="67.69" cy="563.00" r="2.2" fill="#a6cee3"/>
<circle cx="70.03" cy="554.70" r="2.2" fill="#a6cee3"/>
<circle cx="72.36" cy="536.60" r="2.2" fill="#a6cee3"/>
<circle cx="74.70" cy="548.00" r="2.2" fill="#a6cee3"/>
<circle cx="77.04" cy="542.60" r="2.2" fill="#a6cee3"/>
<circle cx="79.38" cy="529.60" r="2.2" fill="#a6cee3"/>
<circle cx="81.71" cy="538.90" r="2.2" fill="#a6cee3"/>
<circle cx="84.05" cy="554.20" r="2.2" fill="#a6cee3"/>
<circle cx="86.39" cy="560.00" r="2.2" fill="#a6cee3"/>
<circle cx="88.72" cy="550.00" r="2.2" fill="#a6cee3"/>
<circle cx="91.06" cy="524.00" r="2.2" fill="#a6cee3"/>
<circle cx="93.40" cy="535.70" r="2.2" fill="#a6cee3"/>
<circle cx="95.74" cy="542.00" r="2.2" fill="#a6cee3"/>
<circle cx="98.08" cy="528.00" r="2.2" fill="#a6cee3"/>
<circle cx="100.41" cy="535.00" r="2.2" fill="#a6cee3"/>
<circle cx="102.75" cy="556.70" r="2.2" fill="#a6cee3"/>
<circle cx="105.09" cy="541.20" r="2.2" fill="#a6cee3"/>
<circle cx="107.43" cy="545.00" r="2.2" fill="#a6cee3"/>
<circle cx="109.76" cy="515.00" r="2.2" fill="#a6cee3"/>
<circle cx="112.10" cy="532.60" r="2.2" fill="#a6cee3"/>
<circle cx="114.44" cy="518.70" r="2.2" fill="#a6cee3"/>
<circle cx="116.78" cy="523.60" r="2.2" fill="#a6cee3"/>
<circle cx="119.11" cy="530.80" r="2.2" fill="#a6cee3"/>
<circle cx="121.45" cy="555.40" r="2.2" fill="#a6cee3"/>
<circle cx="123.79" cy="524.30" r="2.2" fill="#a6cee3"/>
<circle cx="126.13" cy="539.00" r="2.2" fill="#a6cee3"/>
<circle cx="128.46" cy="506.70" r="2.2" fill="#a6cee3"/>
<circle cx="130.80" cy="512.30" r="2.2" fill="#a6cee3"/>
<polyline points="39.64,569.00 41.97,548.50 44.31,558.00 46.65,576.80 48.99,574.50 51.33,567.50 53.66,551.40 56.00,562.40 58.34,555.70 60.67,537.80 63.01,550.00 65.35,571.30 67.69,566.10 70.03,559.50 72.36,536.60 74.70,554.00 77.04,550.90 79.38,533.70 81.71,547.00 84.05,569.30 86.39,562.20 88.72,555.40 91.06,533.50 93.40,548.90 95.74,544.00 98.08,530.80 100.41,542.80 102.75,562.20 105.09,553.80 107.43,546.20 109.76,521.50 112.10,543.70 114.44,541.20 116.78,526.40 119.11,536.70 121.45,556.70 123.79,545.60 126.13,539.40 128.46,514.50 130.80,537.50" fill="none" stroke="#e31a1c" stroke-width="1.45" stroke-linejoin="round"/>
<circle cx="39.64" cy="569.00" r="2.2" fill="#e31a1c"/>
<circle cx="41.97" cy="548.50" r="2.2" fill="#e31a1c"/>
<circle cx="44.31" cy="558.00" r="2.2" fill="#e31a1c"/>
<circle cx="46.65" cy="576.80" r="2.2" fill="#e31a1c"/>
<circle cx="48.99" cy="574.50" r="2.2" fill="#e31a1c"/>
<circle cx="51.33" cy="567.50" r="2.2" fill="#e31a1c"/>
<circle cx="53.66" cy="551.40" r="2.2" fill="#e31a1c"/>
<circle cx="56.00" cy="562.40" r="2.2" fill="#e31a1c"/>
<circle cx="58.34" cy="555.70" r="2.2" fill="#e31a1c"/>
<circle cx="60.67" cy="537.80" r="2.2" fill="#e31a1c"/>
<circle cx="63.01" cy="550.00" r="2.2" fill="#e31a1c"/>
<circle cx="65.35" cy="571.30" r="2.2" fill="#e31a1c"/>
<circle cx="67.69" cy="566.10" r="2.2" fill="#e31a1c"/>
<circle cx="70.03" cy="559.50" r="2.2" fill="#e31a1c"/>
<circle cx="72.36" cy="536.60" r="2.2" fill="#e31a1c"/>
<circle cx="74.70" cy="554.00" r="2.2" fill="#e31a1c"/>
<circle cx="77.04" cy="550.90" r="2.2" fill="#e31a1c"/>
<circle cx="79.38" cy="533.70" r="2.2" fill="#e31a1c"/>
<circle cx="81.71" cy="547.00" r="2.2" fill="#e31a1c"/>
<circle cx="84.05" cy="569.30" r="2.2" fill="#e31a1c"/>
<circle cx="86.39" cy="562.20" r="2.2" fill="#e31a1c"/>
<circle cx="88.72" cy="555.40" r="2.2" fill="#e31a1c"/>
<circle cx="91.06" cy="533.50" r="2.2" fill="#e31a1c"/>
<circle cx="93.40" cy="548.90" r="2.2" fill="#e31a1c"/>
<circle cx="95.74" cy="544.00" r="2.2" fill="#e31a1c"/>
<circle cx="98.08" cy="530.80" r="2.2" fill="#e31a1c"/>
<circle cx="100.41" cy="542.80" r="2.2" fill="#e31a1c"/>
<circle cx="102.75" cy="562.20" r="2.2" fill="#e31a1c"/>
<circle cx="105.09" cy="553.80" r="2.2" fill="#e31a1c"/>
<circle cx="107.43" cy="546.20" r="2.2" fill="#e31a1c"/>
<circle cx="109.76" cy="521.50" r="2.2" fill="#e31a1c"/>
<circle cx="112.10" cy="543.70" r="2.2" fill="#e31a1c"/>
<circle cx="114.44" cy="541.20" r="2.2" fill="#e31a1c"/>
<circle cx="116.78" cy="526.40" r="2.2" fill="#e31a1c"/>
<circle cx="119.11" cy="536.70" r="2.2" fill="#e31a1c"/>
<circle cx="121.45" cy="556.70" r="2.2" fill="#e31a1c"/>
<circle cx="123.79" cy="545.60" r="2.2" fill="#e31a1c"/>
<circle cx="126.13" cy="539.40" r="2.2" fill="#e31a1c"/>
<circle cx="128.46" cy="514.50" r="2.2" fill="#e31a1c"/>
<circle cx="130.80" cy="537.50" r="2.2" fill="#e31a1c"/>
<text x="230.60" y="487.60" text-anchor="middle" font-size="7.8" font-weight="normal" >DUAOD</text>
<line x1="180.10" y1="594.90" x2="277.80" y2="594.90" stroke="#cccccc" stroke-width="1.4"/>
<line x1="183.40" y1="492.00" x2="183.40" y2="595.30" stroke="#6e6e6e" stroke-width="0.9"/>
<line x1="180.10" y1="492.40" x2="183.40" y2="492.40" stroke="#6e6e6e" stroke-width="0.9"/>
<text x="176.20" y="495.20" text-anchor="end" font-size="7.8" font-weight="normal" >0.06</text>
<line x1="180.10" y1="543.65" x2="183.40" y2="543.65" stroke="#6e6e6e" stroke-width="0.9"/>
<text x="176.20" y="546.45" text-anchor="end" font-size="7.8" font-weight="normal" >0.04</text>
<line x1="180.10" y1="594.90" x2="183.40" y2="594.90" stroke="#6e6e6e" stroke-width="0.9"/>
<text x="176.20" y="597.70" text-anchor="end" font-size="7.8" font-weight="normal" >0.02</text>
<line x1="183.40" y1="594.90" x2="183.40" y2="598.30" stroke="#6e6e6e" stroke-width="0.9"/>
<text x="183.40" y="607.50" text-anchor="middle" font-size="7.8" font-weight="normal" >0</text>
<line x1="202.04" y1="594.90" x2="202.04" y2="598.30" stroke="#6e6e6e" stroke-width="0.9"/>
<text x="202.04" y="607.50" text-anchor="middle" font-size="7.8" font-weight="normal" >24</text>
<line x1="220.68" y1="594.90" x2="220.68" y2="598.30" stroke="#6e6e6e" stroke-width="0.9"/>
<text x="220.68" y="607.50" text-anchor="middle" font-size="7.8" font-weight="normal" >48</text>
<line x1="239.32" y1="594.90" x2="239.32" y2="598.30" stroke="#6e6e6e" stroke-width="0.9"/>
<text x="239.32" y="607.50" text-anchor="middle" font-size="7.8" font-weight="normal" >72</text>
<line x1="257.96" y1="594.90" x2="257.96" y2="598.30" stroke="#6e6e6e" stroke-width="0.9"/>
<text x="257.96" y="607.50" text-anchor="middle" font-size="7.8" font-weight="normal" >96</text>
<line x1="276.60" y1="594.90" x2="276.60" y2="598.30" stroke="#6e6e6e" stroke-width="0.9"/>
<text x="276.60" y="607.50" text-anchor="middle" font-size="7.8" font-weight="normal" >120</text>
<text x="230.60" y="621.40" text-anchor="middle" font-size="7.8" font-weight="normal" >Forecast time (hours)</text>
<text transform="translate(153.60,543.6) rotate(-90)" text-anchor="middle" font-size="7.8">RMSE</text>
<polyline points="185.73,573.70 188.06,552.60 190.39,521.60 192.72,531.40 195.05,550.50 197.38,559.20 199.71,560.40 202.04,575.00 204.37,568.00 206.70,550.50 209.03,519.00 211.36,526.80 213.69,545.90 216.02,555.40 218.35,554.00 220.68,576.80 223.01,569.40 225.34,544.70 227.67,517.00 230.00,521.50 232.33,539.50 234.66,548.60 236.99,552.30 239.32,572.00 241.65,566.50 243.98,546.40 246.31,516.40 248.64,519.30 250.97,538.00 253.30,544.90 255.63,544.60 257.96,568.00 260.29,566.00 262.62,543.00 264.95,510.50 267.28,513.40 269.61,532.50 271.94,540.50 274.27,539.10 276.60,565.40" fill="none" stroke="#a6cee3" stroke-width="1.45" stroke-linejoin="round"/>
<circle cx="185.73" cy="573.70" r="2.2" fill="#a6cee3"/>
<circle cx="188.06" cy="552.60" r="2.2" fill="#a6cee3"/>
<circle cx="190.39" cy="521.60" r="2.2" fill="#a6cee3"/>
<circle cx="192.72" cy="531.40" r="2.2" fill="#a6cee3"/>
<circle cx="195.05" cy="550.50" r="2.2" fill="#a6cee3"/>
<circle cx="197.38" cy="559.20" r="2.2" fill="#a6cee3"/>
<circle cx="199.71" cy="560.40" r="2.2" fill="#a6cee3"/>
<circle cx="202.04" cy="575.00" r="2.2" fill="#a6cee3"/>
<circle cx="204.37" cy="568.00" r="2.2" fill="#a6cee3"/>
<circle cx="206.70" cy="550.50" r="2.2" fill="#a6cee3"/>
<circle cx="209.03" cy="519.00" r="2.2" fill="#a6cee3"/>
<circle cx="211.36" cy="526.80" r="2.2" fill="#a6cee3"/>
<circle cx="213.69" cy="545.90" r="2.2" fill="#a6cee3"/>
<circle cx="216.02" cy="555.40" r="2.2" fill="#a6cee3"/>
<circle cx="218.35" cy="554.00" r="2.2" fill="#a6cee3"/>
<circle cx="220.68" cy="576.80" r="2.2" fill="#a6cee3"/>
<circle cx="223.01" cy="569.40" r="2.2" fill="#a6cee3"/>
<circle cx="225.34" cy="544.70" r="2.2" fill="#a6cee3"/>
<circle cx="227.67" cy="517.00" r="2.2" fill="#a6cee3"/>
<circle cx="230.00" cy="521.50" r="2.2" fill="#a6cee3"/>
<circle cx="232.33" cy="539.50" r="2.2" fill="#a6cee3"/>
<circle cx="234.66" cy="548.60" r="2.2" fill="#a6cee3"/>
<circle cx="236.99" cy="552.30" r="2.2" fill="#a6cee3"/>
<circle cx="239.32" cy="572.00" r="2.2" fill="#a6cee3"/>
<circle cx="241.65" cy="566.50" r="2.2" fill="#a6cee3"/>
<circle cx="243.98" cy="546.40" r="2.2" fill="#a6cee3"/>
<circle cx="246.31" cy="516.40" r="2.2" fill="#a6cee3"/>
<circle cx="248.64" cy="519.30" r="2.2" fill="#a6cee3"/>
<circle cx="250.97" cy="538.00" r="2.2" fill="#a6cee3"/>
<circle cx="253.30" cy="544.90" r="2.2" fill="#a6cee3"/>
<circle cx="255.63" cy="544.60" r="2.2" fill="#a6cee3"/>
<circle cx="257.96" cy="568.00" r="2.2" fill="#a6cee3"/>
<circle cx="260.29" cy="566.00" r="2.2" fill="#a6cee3"/>
<circle cx="262.62" cy="543.00" r="2.2" fill="#a6cee3"/>
<circle cx="264.95" cy="510.50" r="2.2" fill="#a6cee3"/>
<circle cx="267.28" cy="513.40" r="2.2" fill="#a6cee3"/>
<circle cx="269.61" cy="532.50" r="2.2" fill="#a6cee3"/>
<circle cx="271.94" cy="540.50" r="2.2" fill="#a6cee3"/>
<circle cx="274.27" cy="539.10" r="2.2" fill="#a6cee3"/>
<circle cx="276.60" cy="565.40" r="2.2" fill="#a6cee3"/>
<polyline points="185.73,573.70 188.06,552.60 190.39,523.90 192.72,534.70 195.05,553.80 197.38,562.10 199.71,563.50 202.04,578.60 204.37,572.30 206.70,551.90 209.03,519.00 211.36,524.80 213.69,545.90 216.02,555.40 218.35,554.00 220.68,576.80 223.01,569.40 225.34,544.70 227.67,515.60 230.00,526.30 232.33,546.80 234.66,552.00 236.99,552.30 239.32,574.70 241.65,566.50 243.98,544.50 246.31,510.50 248.64,516.40 250.97,536.90 253.30,544.90 255.63,544.60 257.96,570.30 260.29,564.70 262.62,542.30 264.95,497.00 267.28,501.00 269.61,521.20 271.94,529.30 274.27,524.10 276.60,569.80" fill="none" stroke="#e31a1c" stroke-width="1.45" stroke-linejoin="round"/>
<circle cx="185.73" cy="573.70" r="2.2" fill="#e31a1c"/>
<circle cx="188.06" cy="552.60" r="2.2" fill="#e31a1c"/>
<circle cx="190.39" cy="523.90" r="2.2" fill="#e31a1c"/>
<circle cx="192.72" cy="534.70" r="2.2" fill="#e31a1c"/>
<circle cx="195.05" cy="553.80" r="2.2" fill="#e31a1c"/>
<circle cx="197.38" cy="562.10" r="2.2" fill="#e31a1c"/>
<circle cx="199.71" cy="563.50" r="2.2" fill="#e31a1c"/>
<circle cx="202.04" cy="578.60" r="2.2" fill="#e31a1c"/>
<circle cx="204.37" cy="572.30" r="2.2" fill="#e31a1c"/>
<circle cx="206.70" cy="551.90" r="2.2" fill="#e31a1c"/>
<circle cx="209.03" cy="519.00" r="2.2" fill="#e31a1c"/>
<circle cx="211.36" cy="524.80" r="2.2" fill="#e31a1c"/>
<circle cx="213.69" cy="545.90" r="2.2" fill="#e31a1c"/>
<circle cx="216.02" cy="555.40" r="2.2" fill="#e31a1c"/>
<circle cx="218.35" cy="554.00" r="2.2" fill="#e31a1c"/>
<circle cx="220.68" cy="576.80" r="2.2" fill="#e31a1c"/>
<circle cx="223.01" cy="569.40" r="2.2" fill="#e31a1c"/>
<circle cx="225.34" cy="544.70" r="2.2" fill="#e31a1c"/>
<circle cx="227.67" cy="515.60" r="2.2" fill="#e31a1c"/>
<circle cx="230.00" cy="526.30" r="2.2" fill="#e31a1c"/>
<circle cx="232.33" cy="546.80" r="2.2" fill="#e31a1c"/>
<circle cx="234.66" cy="552.00" r="2.2" fill="#e31a1c"/>
<circle cx="236.99" cy="552.30" r="2.2" fill="#e31a1c"/>
<circle cx="239.32" cy="574.70" r="2.2" fill="#e31a1c"/>
<circle cx="241.65" cy="566.50" r="2.2" fill="#e31a1c"/>
<circle cx="243.98" cy="544.50" r="2.2" fill="#e31a1c"/>
<circle cx="246.31" cy="510.50" r="2.2" fill="#e31a1c"/>
<circle cx="248.64" cy="516.40" r="2.2" fill="#e31a1c"/>
<circle cx="250.97" cy="536.90" r="2.2" fill="#e31a1c"/>
<circle cx="253.30" cy="544.90" r="2.2" fill="#e31a1c"/>
<circle cx="255.63" cy="544.60" r="2.2" fill="#e31a1c"/>
<circle cx="257.96" cy="570.30" r="2.2" fill="#e31a1c"/>
<circle cx="260.29" cy="564.70" r="2.2" fill="#e31a1c"/>
<circle cx="262.62" cy="542.30" r="2.2" fill="#e31a1c"/>
<circle cx="264.95" cy="497.00" r="2.2" fill="#e31a1c"/>
<circle cx="267.28" cy="501.00" r="2.2" fill="#e31a1c"/>
<circle cx="269.61" cy="521.20" r="2.2" fill="#e31a1c"/>
<circle cx="271.94" cy="529.30" r="2.2" fill="#e31a1c"/>
<circle cx="274.27" cy="524.10" r="2.2" fill="#e31a1c"/>
<circle cx="276.60" cy="569.80" r="2.2" fill="#e31a1c"/>
<text x="368.85" y="487.60" text-anchor="middle" font-size="7.8" font-weight="normal" >BCSMC</text>
<line x1="317.80" y1="594.90" x2="416.60" y2="594.90" stroke="#cccccc" stroke-width="1.4"/>
<line x1="321.10" y1="492.00" x2="321.10" y2="595.30" stroke="#6e6e6e" stroke-width="0.9"/>
<line x1="317.80" y1="492.40" x2="321.10" y2="492.40" stroke="#6e6e6e" stroke-width="0.9"/>
<text x="313.90" y="495.20" text-anchor="end" font-size="7.8" font-weight="normal" >4</text>
<line x1="317.80" y1="543.65" x2="321.10" y2="543.65" stroke="#6e6e6e" stroke-width="0.9"/>
<text x="313.90" y="546.45" text-anchor="end" font-size="7.8" font-weight="normal" >2</text>
<line x1="317.80" y1="594.90" x2="321.10" y2="594.90" stroke="#6e6e6e" stroke-width="0.9"/>
<text x="313.90" y="597.70" text-anchor="end" font-size="7.8" font-weight="normal" >0</text>
<line x1="321.10" y1="594.90" x2="321.10" y2="598.30" stroke="#6e6e6e" stroke-width="0.9"/>
<text x="321.10" y="607.50" text-anchor="middle" font-size="7.8" font-weight="normal" >0</text>
<line x1="338.52" y1="594.90" x2="338.52" y2="598.30" stroke="#6e6e6e" stroke-width="0.9"/>
<text x="338.52" y="607.50" text-anchor="middle" font-size="7.8" font-weight="normal" >1</text>
<line x1="355.94" y1="594.90" x2="355.94" y2="598.30" stroke="#6e6e6e" stroke-width="0.9"/>
<text x="355.94" y="607.50" text-anchor="middle" font-size="7.8" font-weight="normal" >2</text>
<line x1="373.36" y1="594.90" x2="373.36" y2="598.30" stroke="#6e6e6e" stroke-width="0.9"/>
<text x="373.36" y="607.50" text-anchor="middle" font-size="7.8" font-weight="normal" >3</text>
<line x1="390.78" y1="594.90" x2="390.78" y2="598.30" stroke="#6e6e6e" stroke-width="0.9"/>
<text x="390.78" y="607.50" text-anchor="middle" font-size="7.8" font-weight="normal" >4</text>
<line x1="408.20" y1="594.90" x2="408.20" y2="598.30" stroke="#6e6e6e" stroke-width="0.9"/>
<text x="408.20" y="607.50" text-anchor="middle" font-size="7.8" font-weight="normal" >5</text>
<text x="368.85" y="621.40" text-anchor="middle" font-size="7.8" font-weight="normal" >Forecast time (days)</text>
<text transform="translate(302.00,543.6) rotate(-90)" text-anchor="middle" font-size="7.8">RMSE (μg m<tspan font-size="5.4" dy="-3">−3</tspan><tspan dy="3">)</tspan></text>
<polyline points="338.52,560.60 355.94,536.80 373.36,547.20 390.78,547.00 408.20,510.90" fill="none" stroke="#a6cee3" stroke-width="1.5" stroke-linejoin="round"/>
<circle cx="338.52" cy="560.60" r="2.3" fill="#a6cee3"/>
<circle cx="355.94" cy="536.80" r="2.3" fill="#a6cee3"/>
<circle cx="373.36" cy="547.20" r="2.3" fill="#a6cee3"/>
<circle cx="390.78" cy="547.00" r="2.3" fill="#a6cee3"/>
<circle cx="408.20" cy="510.90" r="2.3" fill="#a6cee3"/>
<polyline points="338.52,582.60 355.94,581.70 373.36,582.40 390.78,583.30 408.20,583.10" fill="none" stroke="#e31a1c" stroke-width="1.5" stroke-linejoin="round"/>
<circle cx="338.52" cy="582.60" r="2.3" fill="#e31a1c"/>
<circle cx="355.94" cy="581.70" r="2.3" fill="#e31a1c"/>
<circle cx="373.36" cy="582.40" r="2.3" fill="#e31a1c"/>
<circle cx="390.78" cy="583.30" r="2.3" fill="#e31a1c"/>
<circle cx="408.20" cy="583.10" r="2.3" fill="#e31a1c"/>
<text x="507.15" y="487.60" text-anchor="middle" font-size="7.8" font-weight="normal" >OCSMC</text>
<line x1="456.00" y1="594.90" x2="555.00" y2="594.90" stroke="#cccccc" stroke-width="1.4"/>
<line x1="459.30" y1="492.00" x2="459.30" y2="595.30" stroke="#6e6e6e" stroke-width="0.9"/>
<line x1="456.00" y1="492.40" x2="459.30" y2="492.40" stroke="#6e6e6e" stroke-width="0.9"/>
<text x="452.10" y="495.20" text-anchor="end" font-size="7.8" font-weight="normal" >50</text>
<line x1="456.00" y1="543.65" x2="459.30" y2="543.65" stroke="#6e6e6e" stroke-width="0.9"/>
<text x="452.10" y="546.45" text-anchor="end" font-size="7.8" font-weight="normal" >25</text>
<line x1="456.00" y1="594.90" x2="459.30" y2="594.90" stroke="#6e6e6e" stroke-width="0.9"/>
<text x="452.10" y="597.70" text-anchor="end" font-size="7.8" font-weight="normal" >0</text>
<line x1="459.30" y1="594.90" x2="459.30" y2="598.30" stroke="#6e6e6e" stroke-width="0.9"/>
<text x="459.30" y="607.50" text-anchor="middle" font-size="7.8" font-weight="normal" >0</text>
<line x1="476.70" y1="594.90" x2="476.70" y2="598.30" stroke="#6e6e6e" stroke-width="0.9"/>
<text x="476.70" y="607.50" text-anchor="middle" font-size="7.8" font-weight="normal" >1</text>
<line x1="494.10" y1="594.90" x2="494.10" y2="598.30" stroke="#6e6e6e" stroke-width="0.9"/>
<text x="494.10" y="607.50" text-anchor="middle" font-size="7.8" font-weight="normal" >2</text>
<line x1="511.50" y1="594.90" x2="511.50" y2="598.30" stroke="#6e6e6e" stroke-width="0.9"/>
<text x="511.50" y="607.50" text-anchor="middle" font-size="7.8" font-weight="normal" >3</text>
<line x1="528.90" y1="594.90" x2="528.90" y2="598.30" stroke="#6e6e6e" stroke-width="0.9"/>
<text x="528.90" y="607.50" text-anchor="middle" font-size="7.8" font-weight="normal" >4</text>
<line x1="546.30" y1="594.90" x2="546.30" y2="598.30" stroke="#6e6e6e" stroke-width="0.9"/>
<text x="546.30" y="607.50" text-anchor="middle" font-size="7.8" font-weight="normal" >5</text>
<text x="507.15" y="621.40" text-anchor="middle" font-size="7.8" font-weight="normal" >Forecast time (days)</text>
<text transform="translate(436.20,543.6) rotate(-90)" text-anchor="middle" font-size="7.8">RMSE (μg m<tspan font-size="5.4" dy="-3">−3</tspan><tspan dy="3">)</tspan></text>
<polyline points="476.70,541.00 494.10,525.90 511.50,542.10 528.90,544.90 546.30,512.50" fill="none" stroke="#a6cee3" stroke-width="1.5" stroke-linejoin="round"/>
<circle cx="476.70" cy="541.00" r="2.3" fill="#a6cee3"/>
<circle cx="494.10" cy="525.90" r="2.3" fill="#a6cee3"/>
<circle cx="511.50" cy="542.10" r="2.3" fill="#a6cee3"/>
<circle cx="528.90" cy="544.90" r="2.3" fill="#a6cee3"/>
<circle cx="546.30" cy="512.50" r="2.3" fill="#a6cee3"/>
<polyline points="476.70,581.00 494.10,581.70 511.50,583.10 528.90,585.20 546.30,585.40" fill="none" stroke="#e31a1c" stroke-width="1.5" stroke-linejoin="round"/>
<circle cx="476.70" cy="581.00" r="2.3" fill="#e31a1c"/>
<circle cx="494.10" cy="581.70" r="2.3" fill="#e31a1c"/>
<circle cx="511.50" cy="583.10" r="2.3" fill="#e31a1c"/>
<circle cx="528.90" cy="585.20" r="2.3" fill="#e31a1c"/>
<circle cx="546.30" cy="585.40" r="2.3" fill="#e31a1c"/>
<text x="637.15" y="487.60" text-anchor="middle" font-size="7.8" font-weight="normal" >SUSMC</text>
<line x1="586.00" y1="594.90" x2="685.00" y2="594.90" stroke="#cccccc" stroke-width="1.4"/>
<line x1="589.30" y1="492.00" x2="589.30" y2="595.30" stroke="#6e6e6e" stroke-width="0.9"/>
<line x1="586.00" y1="492.40" x2="589.30" y2="492.40" stroke="#6e6e6e" stroke-width="0.9"/>
<text x="582.10" y="495.20" text-anchor="end" font-size="7.8" font-weight="normal" >3</text>
<line x1="586.00" y1="526.57" x2="589.30" y2="526.57" stroke="#6e6e6e" stroke-width="0.9"/>
<text x="582.10" y="529.37" text-anchor="end" font-size="7.8" font-weight="normal" >2</text>
<line x1="586.00" y1="560.73" x2="589.30" y2="560.73" stroke="#6e6e6e" stroke-width="0.9"/>
<text x="582.10" y="563.53" text-anchor="end" font-size="7.8" font-weight="normal" >1</text>
<line x1="586.00" y1="594.90" x2="589.30" y2="594.90" stroke="#6e6e6e" stroke-width="0.9"/>
<text x="582.10" y="597.70" text-anchor="end" font-size="7.8" font-weight="normal" >0</text>
<line x1="589.30" y1="594.90" x2="589.30" y2="598.30" stroke="#6e6e6e" stroke-width="0.9"/>
<text x="589.30" y="607.50" text-anchor="middle" font-size="7.8" font-weight="normal" >0</text>
<line x1="606.72" y1="594.90" x2="606.72" y2="598.30" stroke="#6e6e6e" stroke-width="0.9"/>
<text x="606.72" y="607.50" text-anchor="middle" font-size="7.8" font-weight="normal" >1</text>
<line x1="624.14" y1="594.90" x2="624.14" y2="598.30" stroke="#6e6e6e" stroke-width="0.9"/>
<text x="624.14" y="607.50" text-anchor="middle" font-size="7.8" font-weight="normal" >2</text>
<line x1="641.56" y1="594.90" x2="641.56" y2="598.30" stroke="#6e6e6e" stroke-width="0.9"/>
<text x="641.56" y="607.50" text-anchor="middle" font-size="7.8" font-weight="normal" >3</text>
<line x1="658.98" y1="594.90" x2="658.98" y2="598.30" stroke="#6e6e6e" stroke-width="0.9"/>
<text x="658.98" y="607.50" text-anchor="middle" font-size="7.8" font-weight="normal" >4</text>
<line x1="676.40" y1="594.90" x2="676.40" y2="598.30" stroke="#6e6e6e" stroke-width="0.9"/>
<text x="676.40" y="607.50" text-anchor="middle" font-size="7.8" font-weight="normal" >5</text>
<text x="637.15" y="621.40" text-anchor="middle" font-size="7.8" font-weight="normal" >Forecast time (days)</text>
<text transform="translate(571.30,543.6) rotate(-90)" text-anchor="middle" font-size="7.8">RMSE (μg m<tspan font-size="5.4" dy="-3">−3</tspan><tspan dy="3">)</tspan></text>
<polyline points="606.72,516.70 624.14,511.10 641.56,509.50 658.98,505.60 676.40,504.20" fill="none" stroke="#a6cee3" stroke-width="1.5" stroke-linejoin="round"/>
<circle cx="606.72" cy="516.70" r="2.3" fill="#a6cee3"/>
<circle cx="624.14" cy="511.10" r="2.3" fill="#a6cee3"/>
<circle cx="641.56" cy="509.50" r="2.3" fill="#a6cee3"/>
<circle cx="658.98" cy="505.60" r="2.3" fill="#a6cee3"/>
<circle cx="676.40" cy="504.20" r="2.3" fill="#a6cee3"/>
<polyline points="606.72,549.80 624.14,555.10 641.56,557.90 658.98,557.90 676.40,559.50" fill="none" stroke="#e31a1c" stroke-width="1.5" stroke-linejoin="round"/>
<circle cx="606.72" cy="549.80" r="2.3" fill="#e31a1c"/>
<circle cx="624.14" cy="555.10" r="2.3" fill="#e31a1c"/>
<circle cx="641.56" cy="557.90" r="2.3" fill="#e31a1c"/>
<circle cx="658.98" cy="557.90" r="2.3" fill="#e31a1c"/>
<circle cx="676.40" cy="559.50" r="2.3" fill="#e31a1c"/>
<line x1="279.9" y1="643.6" x2="293.0" y2="643.6" stroke="#a6cee3" stroke-width="1.5"/>
<circle cx="286.4" cy="643.6" r="2.7" fill="#a6cee3"/>
<text x="296.70" y="646.70" text-anchor="start" font-size="7.8" font-weight="normal" >GEOS-FP</text>
<line x1="343.9" y1="643.4" x2="356.6" y2="643.4" stroke="#e31a1c" stroke-width="1.5"/>
<circle cx="350.2" cy="643.4" r="2.7" fill="#e31a1c"/>
<text x="360.70" y="646.70" text-anchor="start" font-size="7.8" font-weight="normal" >Operational AI-GAMFS</text>
</svg>
</body></html>
